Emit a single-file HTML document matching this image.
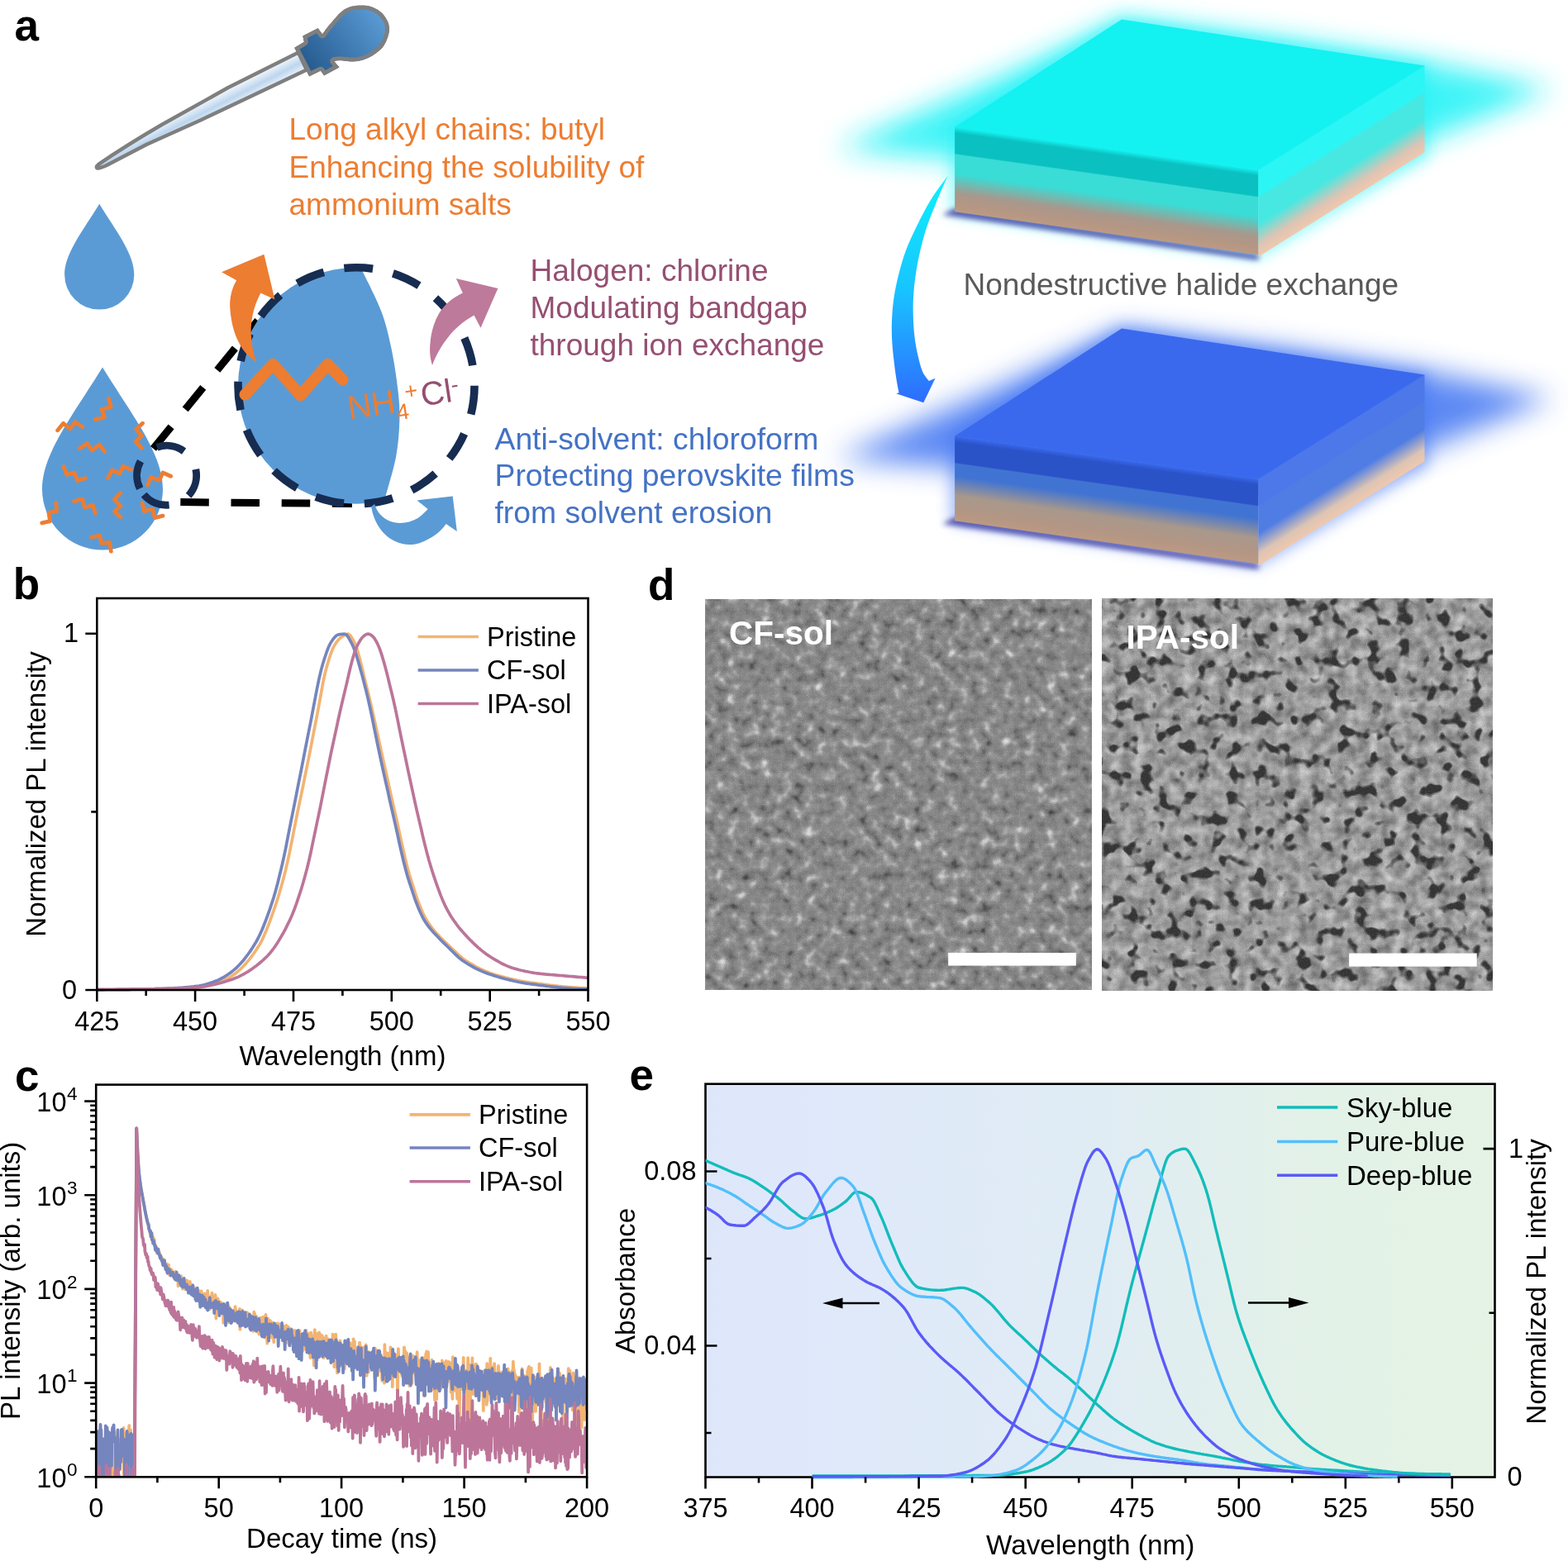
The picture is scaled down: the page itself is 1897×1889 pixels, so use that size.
<!DOCTYPE html>
<html lang="en"><head><meta charset="utf-8"><title>Figure</title>
<style>html,body{margin:0;padding:0;background:#fff}body{width:1897px;height:1889px;overflow:hidden}svg{display:block}text{font-family:"Liberation Sans",Arial,Helvetica,sans-serif}</style>
</head><body>
<svg width="1897" height="1889" viewBox="0 0 1897 1889">
<rect width="1897" height="1889" fill="#fff"/>
<g id="slabs">
<defs>
<linearGradient id="s1f" x1="0" y1="0" x2="0" y2="1">
<stop offset="0" stop-color="#14F1F1"/><stop offset="0.07" stop-color="#0BC0C0"/><stop offset="0.31" stop-color="#0BC0C0"/><stop offset="0.325" stop-color="#3ADCD6"/>
<stop offset="0.55" stop-color="#3ADCD6"/><stop offset="0.78" stop-color="#A8988C"/><stop offset="0.9" stop-color="#B49684"/><stop offset="1" stop-color="#BC9A82"/></linearGradient>
<linearGradient id="s1r" x1="0" y1="0" x2="0" y2="1">
<stop offset="0" stop-color="#2CF5F5"/><stop offset="0.30" stop-color="#2CF5F5"/><stop offset="0.32" stop-color="#48E8E2"/>
<stop offset="0.62" stop-color="#48E8E2"/><stop offset="0.86" stop-color="#DCC4B4"/><stop offset="1" stop-color="#F0C8AE"/></linearGradient>
<filter id="s1blur" x="-0.3" y="-0.6" width="1.6" height="2.2"><feGaussianBlur stdDeviation="17"/></filter>
<filter id="s1blur2" x="-0.1" y="-1" width="1.2" height="3"><feGaussianBlur stdDeviation="3"/></filter>
<filter id="s1blur3" x="-0.3" y="-0.6" width="1.6" height="2.2"><feGaussianBlur stdDeviation="9"/></filter>
</defs>
<g transform="translate(0 0)">
<path d="M1012 180L1200 98L1357 26L1560 50L1730 76L1878 108L1730 168L1530 228L1300 204Z" fill="#1CF2F6" opacity="0.85" filter="url(#s1blur)"/>
<path d="M1150 150L1357 20L1728 78L1728 190L1522 312L1150 258Z" fill="#1CF2F6" opacity="0.5" filter="url(#s1blur3)"/>
<path d="M1140 260L1522.5 315L1522.5 308L1155 252Z" fill="#4A4AA8" opacity="0.9" filter="url(#s1blur2)"/>
<g transform="translate(1155.1 153.7) skewY(8.05)"><rect width="367.4" height="102.5" fill="url(#s1f)"/></g>
<g transform="translate(1522.5 205.7) skewY(-32.15)"><rect width="201" height="105" fill="url(#s1r)"/></g>
<path d="M1357 23.6L1723.5 79.4L1522.5 205.7L1155.1 153.7Z" fill="#14F1F1"/>
</g>
<defs>
<linearGradient id="s2f" x1="0" y1="0" x2="0" y2="1">
<stop offset="0" stop-color="#3B69EE"/><stop offset="0.07" stop-color="#2A53C8"/><stop offset="0.31" stop-color="#2A53C8"/><stop offset="0.325" stop-color="#4174D2"/>
<stop offset="0.47" stop-color="#4174D2"/><stop offset="0.7" stop-color="#A8988C"/><stop offset="0.9" stop-color="#B49684"/><stop offset="1" stop-color="#BC9A82"/></linearGradient>
<linearGradient id="s2r" x1="0" y1="0" x2="0" y2="1">
<stop offset="0" stop-color="#4D78EA"/><stop offset="0.30" stop-color="#4D78EA"/><stop offset="0.32" stop-color="#4F7DE4"/>
<stop offset="0.62" stop-color="#4F7DE4"/><stop offset="0.86" stop-color="#DCC4B4"/><stop offset="1" stop-color="#F0C8AE"/></linearGradient>
<filter id="s2blur" x="-0.3" y="-0.6" width="1.6" height="2.2"><feGaussianBlur stdDeviation="17"/></filter>
<filter id="s2blur2" x="-0.1" y="-1" width="1.2" height="3"><feGaussianBlur stdDeviation="3"/></filter>
<filter id="s2blur3" x="-0.3" y="-0.6" width="1.6" height="2.2"><feGaussianBlur stdDeviation="9"/></filter>
</defs>
<g transform="translate(0 374)">
<path d="M1012 180L1200 98L1357 26L1560 50L1730 76L1878 108L1730 168L1530 228L1300 204Z" fill="#3F74F2" opacity="0.85" filter="url(#s2blur)"/>
<path d="M1150 150L1357 20L1728 78L1728 190L1522 312L1150 258Z" fill="#3F74F2" opacity="0.5" filter="url(#s2blur3)"/>
<path d="M1140 260L1522.5 315L1522.5 308L1155 252Z" fill="#4A4AA8" opacity="0.9" filter="url(#s2blur2)"/>
<g transform="translate(1155.1 153.7) skewY(8.05)"><rect width="367.4" height="102.5" fill="url(#s2f)"/></g>
<g transform="translate(1522.5 205.7) skewY(-32.15)"><rect width="201" height="105" fill="url(#s2r)"/></g>
<path d="M1357 23.6L1723.5 79.4L1522.5 205.7L1155.1 153.7Z" fill="#3B69EE"/>
</g>
</g>
<g id="panel-a" font-family='"Liberation Sans", Arial, Helvetica, sans-serif'>
<defs>
<linearGradient id="tubeg" gradientUnits="userSpaceOnUse" x1="359.5" y1="64" x2="370.9" y2="86.2"><stop offset="0" stop-color="#F4F8FC"/><stop offset="0.5" stop-color="#BDD6EE"/><stop offset="1" stop-color="#F4F8FC"/></linearGradient>
<linearGradient id="bulbg" gradientUnits="userSpaceOnUse" x1="372" y1="85" x2="462" y2="18"><stop offset="0" stop-color="#255A8E"/><stop offset="1" stop-color="#5B9BD5"/></linearGradient>
<linearGradient id="arrg" gradientUnits="userSpaceOnUse" x1="0" y1="213" x2="0" y2="488"><stop offset="0" stop-color="#0FF0FC"/><stop offset="0.5" stop-color="#18C4FF"/><stop offset="1" stop-color="#2F6BFF"/></linearGradient>
<clipPath id="bigc"><circle cx="431" cy="466.8" r="143"/></clipPath>
</defs>
<text x="17.5" y="48.8" font-size="53" text-anchor="start" fill="#000" font-weight="bold">a</text>
<path d="M120.2 246.8C141.2 280.8 162.3 307.3 162.3 332.3A42.1 42.3 0 0 1 78.1 332.3C78.1 307.3 99.2 280.8 120.2 246.8Z" fill="#5B9BD5"/>
<path d="M124 444.5C160.4 503.5 197 548.9 197 592.2A73 73.4 0 0 1 51 592.2C51 548.9 87.6 503.5 124 444.5Z" fill="#5B9BD5"/>
<path d="M115.3 507.6L126.4 504.8L123.2 495.6L134.3 492.3L131.4 482.1M69.7 520.8L76.6 512.2L84.5 519L90.8 510.7L99.6 516.6M172.5 512.2L164.8 519.6L171.6 527.3L164.2 534.3L171.2 542.1M96.5 542.4L105.5 536.5L111.3 544.8L120.3 538L126.4 546.3M77.1 564.6L80.8 574.4L90 572L93.7 581.7L103.3 578.6M130.6 578.6L135.6 568.8L144.5 573.1L149.1 564.2L158.3 568.3M178.6 586.7L182.7 577.5L192.8 581.2L197 572L206.6 576.2M145.8 596.5L138.4 604.4L145.8 612.2L138.4 619L145.8 626M89.5 606.6L99.6 603.9L102.4 614L112.5 611.3L115.3 621M67.9 608.5L68.6 618.6L59 620.5L60.5 630.6L50.7 632.8M172 608.5L174.4 618.6L184.5 616.2L187.3 626.6L197 624.2M110.7 650L120.8 648.2L122.7 657.4L132.5 656.5L134.3 667.2" fill="none" stroke="#ED7D31" stroke-width="4.8" stroke-linecap="round" stroke-linejoin="round"/>
<path d="M185.5 542.8L311.8 387.8" stroke="#000" stroke-width="9" stroke-dasharray="34.2 27" fill="none"/>
<path d="M218.3 607.6L426 609.5" stroke="#000" stroke-width="9" stroke-dasharray="34.5 26.7" fill="none"/>
<circle cx="201.6" cy="575.3" r="36" fill="none" stroke="#172C51" stroke-width="8.9" stroke-dasharray="34.2 26.7" transform="rotate(154 201.6 575.3)"/>
<path clip-path="url(#bigc)" d="M270 300H432.1L432.1 314.2C433.1 316.4 433.2 316.9 438.1 327.3C443 337.7 455.4 361 461.2 376.6C467.1 392.2 469.9 405.1 473.3 420.8C476.6 436.6 479.7 456.7 481.3 471.1C483 485.5 483.7 493.9 483.4 507.3C483 520.7 482.2 535.8 479.3 551.6C476.5 567.3 469.1 590.8 466.3 601.9C463.4 612.9 462.9 615.3 462.2 618H270Z" fill="#5B9BD5"/>
<circle cx="431" cy="466.8" r="143" fill="none" stroke="#172C51" stroke-width="9.6" stroke-dasharray="34.9 25"/>
<path d="M319.4 307.8L332.5 362.5L315.4 354.4C306 372 302 392 304.3 410.8C305 420 307 429 310.4 437.9C300 432 294 424 290.2 416.8C283 404 279 388 278.2 370.5C278 358 281 348 286.2 339.3L268.1 329.3Z" fill="#ED7D31"/>
<path d="M602.4 349L581.5 396.7L573.5 381.6C560 389 549 399 541.7 408.7C534 418 527 431 523 441.9C520 432 519.5 424 520.6 414C522 400 526 388 531.6 378.6C538 368 548 360 559.8 354.4L551.8 336.9Z" fill="#BD7A9B"/>
<path d="M547.7 600.5L552.8 643.1L539.7 634C533 644 522 652 507.5 657.2C498 660 488 660 478 655C463 648 452 632 449.2 613L453.2 610C456 620 463 627 471.3 630.5C482 635 495 633 505.5 627C510 624 514 620 517.6 616L504.5 605.5Z" fill="#5B9BD5"/>
<path d="M296.5 477.5L330.3 440.8L363.5 478.3L396.6 440.8L414.5 459.5" fill="none" stroke="#ED7D31" stroke-width="14" stroke-linecap="round" stroke-linejoin="round"/>
<g transform="translate(422.8 507.6) rotate(-8.5)"><text x="0" y="0" font-size="40" fill="#ED7D31">NH<tspan font-size="27" dy="9.5">4</tspan><tspan font-size="27" dy="-23.5" dx="-2">+</tspan></text></g>
<g transform="translate(511 491.5) rotate(-8.5)"><text x="0" y="0" font-size="40" fill="#954F72">Cl<tspan font-size="27" dy="-11">-</tspan></text></g>
<clipPath id="tubec"><path d="M362 60.5L274 104.6L194.9 148.8Q150 175 118 197Q112 202 116.5 205.5Q121 206.5 131 201.5L179 176.5L242.3 148L305.6 118L374 85.5Z"/></clipPath><clipPath id="bulbc"><path d="M356.1 57.7L367.8 50.8L366.2 43.4L384.7 33.9L390 41.3C390.9 40.1 393.3 36.4 395.3 33.9C397.2 31.4 399.4 29 401.6 26.5C403.8 23.9 406.1 21 408.5 18.5C411 16.1 413.6 13.5 416.5 11.6C419.4 9.8 422.6 8.5 426 7.6C429.3 6.7 433.1 6.4 436.6 6.4C440.1 6.3 443.8 6.5 447.2 7.4C450.5 8.3 453.9 9.9 456.7 11.6C459.5 13.4 462 15.5 464.1 18C466.2 20.5 468.3 23.8 469.4 26.5C470.5 29.1 470.8 31.6 471 33.9C471.2 36.2 471 37.8 470.5 40.2C469.9 42.7 469 45.9 467.8 48.7C466.6 51.5 465 54.7 463 57.2C461.1 59.6 458.6 61.6 456.2 63.5C453.7 65.5 450.8 67.4 448.2 68.8C445.7 70.2 443.5 71.1 440.8 72C438.2 72.9 435 73.7 432.3 74.1C429.7 74.6 427.2 74.6 424.9 74.6C422.6 74.6 420.9 74.3 418.6 74.1C416.3 73.9 413.6 73.3 411.2 73.3C408.8 73.3 405.4 74 404.3 74.1L410.6 81.5L392.1 91.6L387.9 85.8L374.1 92.6Z"/></clipPath>
<path d="M362 60.5L274 104.6L194.9 148.8Q150 175 118 197Q112 202 116.5 205.5Q121 206.5 131 201.5L179 176.5L242.3 148L305.6 118L374 85.5Z" fill="url(#tubeg)" stroke="#7F7F7F" stroke-width="9" stroke-linejoin="round" clip-path="url(#tubec)"/>
<path d="M356.1 57.7L367.8 50.8L366.2 43.4L384.7 33.9L390 41.3C390.9 40.1 393.3 36.4 395.3 33.9C397.2 31.4 399.4 29 401.6 26.5C403.8 23.9 406.1 21 408.5 18.5C411 16.1 413.6 13.5 416.5 11.6C419.4 9.8 422.6 8.5 426 7.6C429.3 6.7 433.1 6.4 436.6 6.4C440.1 6.3 443.8 6.5 447.2 7.4C450.5 8.3 453.9 9.9 456.7 11.6C459.5 13.4 462 15.5 464.1 18C466.2 20.5 468.3 23.8 469.4 26.5C470.5 29.1 470.8 31.6 471 33.9C471.2 36.2 471 37.8 470.5 40.2C469.9 42.7 469 45.9 467.8 48.7C466.6 51.5 465 54.7 463 57.2C461.1 59.6 458.6 61.6 456.2 63.5C453.7 65.5 450.8 67.4 448.2 68.8C445.7 70.2 443.5 71.1 440.8 72C438.2 72.9 435 73.7 432.3 74.1C429.7 74.6 427.2 74.6 424.9 74.6C422.6 74.6 420.9 74.3 418.6 74.1C416.3 73.9 413.6 73.3 411.2 73.3C408.8 73.3 405.4 74 404.3 74.1L410.6 81.5L392.1 91.6L387.9 85.8L374.1 92.6Z" fill="url(#bulbg)" stroke="#7F7F7F" stroke-width="10" stroke-linejoin="round" clip-path="url(#bulbc)"/>
<text x="349.5" y="169.1" font-size="37" text-anchor="start" fill="#ED7D31">Long alkyl chains: butyl</text>
<text x="349.5" y="214.6" font-size="37" text-anchor="start" fill="#ED7D31">Enhancing the solubility of</text>
<text x="349.5" y="260.1" font-size="37" text-anchor="start" fill="#ED7D31">ammonium salts</text>
<text x="641.5" y="339.6" font-size="37" text-anchor="start" fill="#954F72">Halogen: chlorine</text>
<text x="641.5" y="384.7" font-size="37" text-anchor="start" fill="#954F72">Modulating bandgap</text>
<text x="641.5" y="429.8" font-size="37" text-anchor="start" fill="#954F72">through ion exchange</text>
<text x="598.5" y="543.7" font-size="37.3" text-anchor="start" fill="#4472C4">Anti-solvent: chloroform</text>
<text x="598.5" y="588.4" font-size="37.3" text-anchor="start" fill="#4472C4">Protecting perovskite films</text>
<text x="598.5" y="633" font-size="37.3" text-anchor="start" fill="#4472C4">from solvent erosion</text>
<text x="1165.5" y="357" font-size="37" text-anchor="start" fill="#595959">Nondestructive halide exchange</text>
<path d="M1146.6 212.8C1143.2 217.7 1132.3 231.8 1126 242C1119.7 252.2 1113.8 264.1 1108.8 274.3C1103.8 284.5 1099.5 293.6 1096 303C1092.5 312.4 1089.9 321.5 1087.5 331C1085.1 340.5 1082.9 350.6 1081.5 360C1080.1 369.4 1079.4 379 1079 387.7C1078.6 396.4 1078.8 404.1 1079.2 412C1079.6 419.9 1080.5 427.7 1081.3 435C1082.1 442.3 1083 449.3 1084 456C1085 462.7 1086.9 472 1087.5 475.2L1084.2 476.2L1117.3 487.2L1131.5 457.7L1123.9 461C1122.6 459 1118.2 454.7 1115.9 449.2C1113.6 443.7 1111.6 435.1 1110 428C1108.4 420.9 1107.3 414.2 1106.4 406.7C1105.5 399.2 1105 390.9 1104.8 383C1104.6 375.1 1104.5 368.1 1105 359.4C1105.5 350.7 1106.6 340.5 1108 331C1109.4 321.5 1111.2 312.1 1113.5 302.6C1115.8 293.1 1118.3 283.4 1121.5 274C1124.7 264.6 1128.2 256.1 1132.4 245.9C1136.6 235.7 1144.2 218.3 1146.6 212.8Z" fill="url(#arrg)"/>
</g>
<g id="panel-b" font-family='"Liberation Sans", Arial, Helvetica, sans-serif'>
<text x="15.8" y="724.9" font-size="53" text-anchor="start" fill="#000" font-weight="bold">b</text>
<clipPath id="clipb"><rect x="117.3" y="724.0" width="594.2" height="476.0"/></clipPath>
<g clip-path="url(#clipb)" fill="none" stroke-width="3.7" stroke-linejoin="round">
<path d="M117.3 1197.6L119.7 1197.6L122.1 1197.6L124.4 1197.6L126.8 1197.5L129.2 1197.5L131.6 1197.5L133.9 1197.5L136.3 1197.5L138.7 1197.5L141.1 1197.4L143.4 1197.4L145.8 1197.4L148.2 1197.4L150.6 1197.3L153 1197.3L155.3 1197.3L157.7 1197.2L160.1 1197.2L162.5 1197.2L164.8 1197.1L167.2 1197.1L169.6 1197L172 1197L174.3 1197L176.7 1196.9L179.1 1196.9L181.5 1196.8L183.9 1196.8L186.2 1196.8L188.6 1196.7L191 1196.7L193.4 1196.6L195.7 1196.6L198.1 1196.5L200.5 1196.5L202.9 1196.4L205.2 1196.3L207.6 1196.3L210 1196.2L212.4 1196.1L214.7 1196.1L217.1 1196L219.5 1195.9L221.9 1195.8L224.3 1195.7L226.6 1195.6L229 1195.4L231.4 1195.3L233.8 1195.2L236.1 1195L238.5 1194.8L240.9 1194.6L243.3 1194.3L245.6 1193.9L248 1193.5L250.4 1193L252.8 1192.5L255.2 1191.9L257.5 1191.3L259.9 1190.7L262.3 1190L264.7 1189.1L267 1188.2L269.4 1187.1L271.8 1186L274.2 1184.7L276.5 1183.4L278.9 1182L281.3 1180.4L283.7 1178.8L286.1 1177L288.4 1175L290.8 1172.8L293.2 1170.5L295.6 1168L297.9 1165.4L300.3 1162.6L302.7 1159.6L305.1 1156.5L307.4 1153.2L309.8 1149.7L312.2 1146.1L314.6 1142.2L317 1137.7L319.3 1132.6L321.7 1127.1L324.1 1121.1L326.5 1114.9L328.8 1108.3L331.2 1101.6L333.6 1094.7L336 1087.4L338.3 1079.6L340.7 1071.2L343.1 1062.4L345.5 1053.1L347.8 1043.1L350.2 1032.1L352.6 1020.2L355 1008L357.4 995.9L359.7 984.2L362.1 972.7L364.5 961.3L366.9 949.8L369.2 938.2L371.6 926.5L374 914.6L376.4 902.5L378.7 890.3L381.1 878.2L383.5 866L385.9 853.2L388.3 839.9L390.6 827.2L393 815.7L395.4 806.4L397.8 798.4L400.1 791.2L402.5 785.2L404.9 780.5L407.3 776.9L409.6 774L412 771.7L414.4 770L416.8 768.5L419.2 767.4L421.5 767.2L423.9 769.1L426.3 772.8L428.7 777.1L431 782.8L433.4 790.4L435.8 799.3L438.2 808.9L440.5 818.8L442.9 828.4L445.3 837.9L447.7 847.9L450.1 858.2L452.4 868.8L454.8 879.6L457.2 890.5L459.6 901.3L461.9 912.1L464.3 922.8L466.7 933.4L469.1 944.2L471.4 954.9L473.8 965.6L476.2 976.3L478.6 986.7L481 997.2L483.3 1008L485.7 1018.9L488.1 1029.5L490.5 1039.8L492.8 1049.4L495.2 1058.1L497.6 1065.9L500 1073.4L502.3 1080.6L504.7 1087.5L507.1 1094L509.5 1099.9L511.8 1105.4L514.2 1110.1L516.6 1114.2L519 1117.9L521.4 1121.2L523.7 1124.3L526.1 1127.2L528.5 1129.9L530.9 1132.4L533.2 1134.9L535.6 1137.2L538 1139.5L540.4 1141.7L542.7 1144L545.1 1146.3L547.5 1148.6L549.9 1150.9L552.3 1153.2L554.6 1155.3L557 1157.4L559.4 1159.4L561.8 1161.2L564.1 1162.9L566.5 1164.4L568.9 1165.8L571.3 1167.2L573.6 1168.6L576 1169.9L578.4 1171.1L580.8 1172.3L583.2 1173.5L585.5 1174.5L587.9 1175.6L590.3 1176.5L592.7 1177.4L595 1178.2L597.4 1179L599.8 1179.8L602.2 1180.5L604.5 1181.1L606.9 1181.8L609.3 1182.4L611.7 1183.1L614.1 1183.6L616.4 1184.2L618.8 1184.8L621.2 1185.3L623.6 1185.8L625.9 1186.3L628.3 1186.7L630.7 1187.2L633.1 1187.6L635.4 1188L637.8 1188.4L640.2 1188.7L642.6 1189.1L644.9 1189.4L647.3 1189.7L649.7 1190.1L652.1 1190.4L654.5 1190.7L656.8 1191L659.2 1191.4L661.6 1191.7L664 1192L666.3 1192.3L668.7 1192.5L671.1 1192.8L673.5 1193.1L675.8 1193.4L678.2 1193.6L680.6 1193.9L683 1194.1L685.4 1194.3L687.7 1194.5L690.1 1194.7L692.5 1194.9L694.9 1195.1L697.2 1195.2L699.6 1195.4L702 1195.5L704.4 1195.6L706.7 1195.7L709.1 1195.8L711.5 1195.8" stroke="#F2B473"/>
<path d="M117.3 1197.6L119.7 1197.6L122.1 1197.6L124.4 1197.6L126.8 1197.6L129.2 1197.5L131.6 1197.5L133.9 1197.5L136.3 1197.5L138.7 1197.5L141.1 1197.5L143.4 1197.4L145.8 1197.4L148.2 1197.4L150.6 1197.4L153 1197.3L155.3 1197.3L157.7 1197.3L160.1 1197.2L162.5 1197.2L164.8 1197.2L167.2 1197.1L169.6 1197.1L172 1197L174.3 1197L176.7 1196.9L179.1 1196.9L181.5 1196.9L183.9 1196.8L186.2 1196.8L188.6 1196.7L191 1196.7L193.4 1196.6L195.7 1196.5L198.1 1196.4L200.5 1196.3L202.9 1196.2L205.2 1196.1L207.6 1196L210 1195.9L212.4 1195.7L214.7 1195.6L217.1 1195.4L219.5 1195.3L221.9 1195.1L224.3 1194.9L226.6 1194.7L229 1194.5L231.4 1194.2L233.8 1194L236.1 1193.7L238.5 1193.4L240.9 1193.1L243.3 1192.6L245.6 1192.1L248 1191.5L250.4 1190.8L252.8 1190.1L255.2 1189.3L257.5 1188.5L259.9 1187.6L262.3 1186.7L264.7 1185.7L267 1184.5L269.4 1183.2L271.8 1181.8L274.2 1180.3L276.5 1178.7L278.9 1177L281.3 1175.2L283.7 1173.2L286.1 1171.1L288.4 1168.8L290.8 1166.3L293.2 1163.6L295.6 1160.7L297.9 1157.7L300.3 1154.5L302.7 1151.1L305.1 1147.5L307.4 1143.8L309.8 1139.9L312.2 1135.5L314.6 1130.6L317 1125.2L319.3 1119.5L321.7 1113.4L324.1 1106.9L326.5 1100.2L328.8 1093.2L331.2 1085.7L333.6 1077.4L336 1068.5L338.3 1059L340.7 1049.2L343.1 1038.7L345.5 1027.3L347.8 1015.4L350.2 1003.2L352.6 991.2L355 979.3L357.4 967.4L359.7 955.4L362.1 943.3L364.5 931.3L366.9 919.2L369.2 907.1L371.6 894.9L374 882.8L376.4 870.9L378.7 858.7L381.1 846L383.5 833.5L385.9 821.8L388.3 811.6L390.6 803.2L393 795.5L395.4 788.5L397.8 782.4L400.1 777.7L402.5 774.2L404.9 771.1L407.3 768.9L409.6 767.9L412 767.5L414.4 767.3L416.8 767.1L419.2 768.1L421.5 771.3L423.9 775.6L426.3 780.2L428.7 785.9L431 792.7L433.4 800.5L435.8 808.9L438.2 817.6L440.5 826.6L442.9 835.8L445.3 845.9L447.7 856.7L450.1 867.9L452.4 879.5L454.8 891.2L457.2 902.8L459.6 914.1L461.9 925L464.3 935.8L466.7 946.5L469.1 957.2L471.4 967.9L473.8 978.4L476.2 988.8L478.6 999.4L481 1010.2L483.3 1021L485.7 1031.6L488.1 1041.7L490.5 1051.2L492.8 1059.7L495.2 1067.4L497.6 1074.8L500 1082L502.3 1088.8L504.7 1095.1L507.1 1101L509.5 1106.3L511.8 1111L514.2 1115L516.6 1118.6L519 1121.8L521.4 1124.7L523.7 1127.4L526.1 1130L528.5 1132.5L530.9 1135L533.2 1137.5L535.6 1139.9L538 1142.2L540.4 1144.5L542.7 1146.8L545.1 1149.1L547.5 1151.5L549.9 1153.8L552.3 1156.1L554.6 1158.3L557 1160.3L559.4 1162.2L561.8 1163.8L564.1 1165.3L566.5 1166.8L568.9 1168.2L571.3 1169.5L573.6 1170.8L576 1172.1L578.4 1173.2L580.8 1174.3L583.2 1175.4L585.5 1176.4L587.9 1177.3L590.3 1178.2L592.7 1179L595 1179.8L597.4 1180.6L599.8 1181.3L602.2 1182L604.5 1182.7L606.9 1183.4L609.3 1184L611.7 1184.7L614.1 1185.3L616.4 1185.9L618.8 1186.4L621.2 1187L623.6 1187.5L625.9 1188L628.3 1188.5L630.7 1188.9L633.1 1189.4L635.4 1189.8L637.8 1190.1L640.2 1190.5L642.6 1190.8L644.9 1191.1L647.3 1191.4L649.7 1191.7L652.1 1192.1L654.5 1192.4L656.8 1192.7L659.2 1193L661.6 1193.3L664 1193.5L666.3 1193.8L668.7 1194.1L671.1 1194.4L673.5 1194.6L675.8 1194.9L678.2 1195.1L680.6 1195.3L683 1195.5L685.4 1195.7L687.7 1195.9L690.1 1196.1L692.5 1196.3L694.9 1196.4L697.2 1196.5L699.6 1196.6L702 1196.7L704.4 1196.8L706.7 1196.9L709.1 1196.9L711.5 1196.9" stroke="#7585BD"/>
<path d="M117.3 1197.6L119.7 1197.6L122.1 1197.6L124.4 1197.6L126.8 1197.5L129.2 1197.5L131.6 1197.5L133.9 1197.5L136.3 1197.5L138.7 1197.5L141.1 1197.4L143.4 1197.4L145.8 1197.4L148.2 1197.4L150.6 1197.3L153 1197.3L155.3 1197.3L157.7 1197.2L160.1 1197.2L162.5 1197.2L164.8 1197.1L167.2 1197.1L169.6 1197L172 1197L174.3 1197L176.7 1196.9L179.1 1196.9L181.5 1196.8L183.9 1196.8L186.2 1196.8L188.6 1196.7L191 1196.7L193.4 1196.6L195.7 1196.6L198.1 1196.5L200.5 1196.5L202.9 1196.4L205.2 1196.3L207.6 1196.3L210 1196.2L212.4 1196.1L214.7 1196L217.1 1195.9L219.5 1195.9L221.9 1195.8L224.3 1195.6L226.6 1195.5L229 1195.4L231.4 1195.3L233.8 1195.2L236.1 1195L238.5 1194.8L240.9 1194.6L243.3 1194.4L245.6 1194L248 1193.7L250.4 1193.3L252.8 1192.8L255.2 1192.3L257.5 1191.8L259.9 1191.2L262.3 1190.6L264.7 1190L267 1189.4L269.4 1188.7L271.8 1188L274.2 1187.2L276.5 1186.5L278.9 1185.7L281.3 1184.9L283.7 1184L286.1 1183.1L288.4 1182.1L290.8 1180.9L293.2 1179.7L295.6 1178.4L297.9 1177L300.3 1175.6L302.7 1174L305.1 1172.4L307.4 1170.6L309.8 1168.9L312.2 1167L314.6 1165L317 1163L319.3 1160.9L321.7 1158.7L324.1 1156.3L326.5 1153.6L328.8 1150.7L331.2 1147.5L333.6 1144.1L336 1140.4L338.3 1136.6L340.7 1132.5L343.1 1128.3L345.5 1123.8L347.8 1119.2L350.2 1114.4L352.6 1109.1L355 1103.3L357.4 1097L359.7 1090.3L362.1 1083.2L364.5 1075.7L366.9 1067.8L369.2 1059.6L371.6 1050.5L374 1040.5L376.4 1029.7L378.7 1018.5L381.1 1007.1L383.5 995.6L385.9 984.3L388.3 972.7L390.6 960.8L393 948.7L395.4 936.6L397.8 924.7L400.1 913.1L402.5 901.9L404.9 890.8L407.3 879.8L409.6 869L412 858.4L414.4 848.1L416.8 838.1L419.2 828.1L421.5 817.9L423.9 807.7L426.3 798.4L428.7 790.3L431 784L433.4 779L435.8 774.8L438.2 771.5L440.5 769.4L442.9 767.8L445.3 767.1L447.7 767.8L450.1 769.4L452.4 771.6L454.8 775.4L457.2 780.1L459.6 785.8L461.9 792.7L464.3 800.8L466.7 809.6L469.1 818.9L471.4 828.5L473.8 838.1L476.2 848.2L478.6 859.2L481 870.7L483.3 882.4L485.7 894.2L488.1 905.7L490.5 916.9L492.8 928.1L495.2 939.3L497.6 950.4L500 961.4L502.3 972.2L504.7 982.7L507.1 992.9L509.5 1003L511.8 1013.1L514.2 1023L516.6 1032.4L519 1041.2L521.4 1049.2L523.7 1056.7L526.1 1063.9L528.5 1070.8L530.9 1077.4L533.2 1083.6L535.6 1089.4L538 1094.8L540.4 1099.6L542.7 1103.9L545.1 1108L547.5 1111.7L549.9 1115.2L552.3 1118.5L554.6 1121.6L557 1124.5L559.4 1127.3L561.8 1129.9L564.1 1132.5L566.5 1135.1L568.9 1137.5L571.3 1139.9L573.6 1142.2L576 1144.4L578.4 1146.6L580.8 1148.6L583.2 1150.6L585.5 1152.4L587.9 1154.2L590.3 1155.9L592.7 1157.5L595 1159L597.4 1160.4L599.8 1161.8L602.2 1163.2L604.5 1164.5L606.9 1165.8L609.3 1167L611.7 1168.1L614.1 1169.1L616.4 1170.1L618.8 1170.9L621.2 1171.7L623.6 1172.4L625.9 1173L628.3 1173.7L630.7 1174.3L633.1 1174.8L635.4 1175.4L637.8 1175.8L640.2 1176.3L642.6 1176.7L644.9 1177.1L647.3 1177.5L649.7 1177.8L652.1 1178.1L654.5 1178.4L656.8 1178.6L659.2 1178.9L661.6 1179.1L664 1179.3L666.3 1179.5L668.7 1179.7L671.1 1179.9L673.5 1180.1L675.8 1180.3L678.2 1180.5L680.6 1180.7L683 1180.9L685.4 1181.1L687.7 1181.3L690.1 1181.5L692.5 1181.7L694.9 1181.9L697.2 1182.1L699.6 1182.3L702 1182.5L704.4 1182.7L706.7 1182.9L709.1 1183.1L711.5 1183.3" stroke="#BC7599"/>
</g>
<rect x="117.3" y="724.0" width="594.2" height="474" fill="none" stroke="#000" stroke-width="2.6"/>
<path d="M117.3 1198v14M176.7 1198v7M236.1 1198v14M295.6 1198v7M355 1198v14M414.4 1198v7M473.8 1198v14M533.2 1198v7M592.7 1198v14M652.1 1198v7M711.5 1198v14M117.3 1198h-14M117.3 982.4h-7M117.3 766.7h-14" stroke="#000" stroke-width="2.6" fill="none"/>
<text x="117.3" y="1247.4" font-size="32.5" text-anchor="middle" fill="#000">425</text>
<text x="236.1" y="1247.4" font-size="32.5" text-anchor="middle" fill="#000">450</text>
<text x="355" y="1247.4" font-size="32.5" text-anchor="middle" fill="#000">475</text>
<text x="473.8" y="1247.4" font-size="32.5" text-anchor="middle" fill="#000">500</text>
<text x="592.7" y="1247.4" font-size="32.5" text-anchor="middle" fill="#000">525</text>
<text x="711.5" y="1247.4" font-size="32.5" text-anchor="middle" fill="#000">550</text>
<text x="95" y="777.2" font-size="32.5" text-anchor="end" fill="#000">1</text>
<text x="93" y="1208.5" font-size="32.5" text-anchor="end" fill="#000">0</text>
<text x="414.4" y="1289" font-size="33" text-anchor="middle" fill="#000">Wavelength (nm)</text>
<text transform="translate(54.5 961) rotate(-90)" font-size="33" text-anchor="middle">Normalized PL intensity</text>
<path d="M505.6 770.5H578.9" stroke="#F2B473" stroke-width="3.6" fill="none"/>
<text x="589" y="782.2" font-size="32.5" text-anchor="start" fill="#000">Pristine</text>
<path d="M505.6 811H578.9" stroke="#7585BD" stroke-width="3.6" fill="none"/>
<text x="589" y="822.2" font-size="32.5" text-anchor="start" fill="#000">CF-sol</text>
<path d="M505.6 851.5H578.9" stroke="#BC7599" stroke-width="3.6" fill="none"/>
<text x="589" y="863.1" font-size="32.5" text-anchor="start" fill="#000">IPA-sol</text>
</g>
<g id="panel-c" font-family='"Liberation Sans", Arial, Helvetica, sans-serif'>
<text x="18.1" y="1319.6" font-size="53" text-anchor="start" fill="#000" font-weight="bold">c</text>
<clipPath id="clipc"><rect x="116.2" y="1312.6" width="593.9" height="474.70000000000005"/></clipPath>
<g clip-path="url(#clipc)" fill="none" stroke-width="3.8" stroke-linejoin="round">
<path d="M116.2 1754.9L116.6 1733.3L117.1 1735.1L117.5 1767.5L118 1762.2L118.4 1768L118.9 1745L119.3 1756.8L119.8 1742.1L120.2 1815.1L120.7 1730.7L121.1 1757.7L121.5 1743.2L122 1758.5L122.4 1764.2L122.9 1746.8L123.3 1740.9L123.8 1760L124.2 1758.9L124.7 1743.1L125.1 1778.1L125.6 1805.5L126 1748L126.4 1771.9L126.9 1815.1L127.3 1776.3L127.8 1766.4L128.2 1789.9L128.7 1804.3L129.1 1754.9L129.6 1739.8L130 1760.7L130.5 1774.1L130.9 1748.2L131.3 1742.6L131.8 1762.3L132.2 1745.4L132.7 1737.7L133.1 1760.1L133.6 1776.3L134 1748.9L134.5 1750.7L134.9 1736.9L135.4 1793.9L135.8 1771.7L136.2 1777L136.7 1815.1L137.1 1753.1L137.6 1745.7L138 1774L138.5 1733L138.9 1741L139.4 1744.1L139.8 1747.9L140.3 1739L140.7 1796.1L141.1 1744.3L141.6 1744.5L142 1815.1L142.5 1748.9L142.9 1761.1L143.4 1741.6L143.8 1765.7L144.3 1756L144.7 1749L145.2 1778.3L145.6 1744.5L146 1757.8L146.5 1746.3L146.9 1767.8L147.4 1737.1L147.8 1744.4L148.3 1759.4L148.7 1744L149.2 1734.6L149.6 1727.9L150.1 1809L150.5 1740L150.9 1746.8L151.4 1757.6L151.8 1782.7L152.3 1734.7L152.7 1792.9L153.2 1745.1L153.6 1734.1L154.1 1810.6L154.5 1762.3L155 1795L155.4 1750.8L155.8 1731.3L156.3 1725.2L156.7 1815.1L157.2 1769.3L157.6 1742.8L158.1 1730.5L158.5 1747.6L159 1774.2L159.4 1749.8L159.9 1756L160.3 1760L160.7 1773.8L161.2 1748.2L161.6 1749.6L162.1 1757.6L162.5 1760.4L163 1769.5L163.4 1663.9L163.9 1578.7L164.3 1512.2L164.8 1438.5L165.2 1365.3L165.6 1375.4L166.1 1385.1L166.5 1394.2L167 1402.5L167.4 1409.9L167.9 1416L168.3 1420.8L168.8 1424.9L169.2 1428.5L169.7 1431.8L170.1 1434.7L170.5 1437.4L171 1440L171.4 1442.4L171.9 1444.8L172.3 1447.3L172.8 1449.8L173.2 1452.4L173.7 1454.9L174.1 1457.4L174.6 1459.8L175 1462.2L175.4 1464.5L175.9 1466.8L176.3 1469L176.8 1471.2L177.2 1473.3L177.7 1475.3L178.1 1477.2L178.6 1479.1L179 1482.3L179.5 1483.6L179.9 1486.7L180.3 1487.2L180.8 1487.9L181.2 1488.8L181.7 1491.6L182.1 1496.6L182.6 1493.9L183 1494.7L183.5 1494.1L183.9 1496.5L184.4 1500.5L184.8 1501.9L185.2 1496.9L185.7 1500.7L186.1 1499.4L186.6 1499.8L187 1507.7L187.5 1505.8L187.9 1506.6L188.4 1507.3L188.8 1508.4L189.2 1510.1L189.7 1511.1L190.1 1516.6L190.6 1513.8L191 1516.3L191.5 1514.8L191.9 1517.3L192.4 1515.2L192.8 1515.5L193.3 1517.7L193.7 1518.5L194.1 1519.9L194.6 1522.3L195 1522.3L195.5 1524.1L195.9 1522.3L196.4 1524.2L196.8 1523.3L197.3 1529.9L197.7 1524L198.2 1529.8L198.6 1530.5L199 1529.6L199.5 1531.5L199.9 1529.6L200.4 1533.1L200.8 1535.5L201.3 1535.4L201.7 1529.3L202.2 1533.8L202.6 1538.5L203.1 1535.1L203.5 1541.1L203.9 1530.6L204.4 1542.1L204.8 1535.7L205.3 1535.9L205.7 1543.3L206.2 1537.6L206.6 1535.8L207.1 1538L207.5 1539.1L208 1537.2L208.4 1540.2L208.8 1540L209.3 1542L209.7 1539.8L210.2 1545.8L210.6 1540L211.1 1545L211.5 1547.6L212 1542.6L212.4 1538.6L212.9 1541.4L213.3 1547L213.7 1543L214.2 1547.6L214.6 1546.8L215.1 1546.4L215.5 1556.4L216 1546.8L216.4 1551.8L216.9 1550.9L217.3 1554.4L217.8 1555L218.2 1553L218.6 1546.7L219.1 1544.1L219.5 1550.5L220 1546.8L220.4 1552.2L220.9 1559.5L221.3 1551.3L221.8 1550.6L222.2 1554.3L222.7 1551.8L223.1 1551.1L223.5 1557.2L224 1560.3L224.4 1555.3L224.9 1555.6L225.3 1556.6L225.8 1551.7L226.2 1549.4L226.7 1557.9L227.1 1553.8L227.6 1553.3L228 1554.5L228.4 1553.6L228.9 1559.7L229.3 1555.4L229.8 1551L230.2 1555.9L230.7 1562.2L231.1 1557.4L231.6 1555.2L232 1559.1L232.5 1563.4L232.9 1555.2L233.3 1567.3L233.8 1559.9L234.2 1562.4L234.7 1568.2L235.1 1558.1L235.6 1561.9L236 1569.1L236.5 1561.5L236.9 1566.3L237.4 1573.9L237.8 1568.2L238.2 1564.2L238.7 1562.9L239.1 1565.3L239.6 1566.1L240 1564.5L240.5 1567.8L240.9 1562.1L241.4 1566.8L241.8 1566.5L242.3 1565.7L242.7 1573.4L243.1 1572L243.6 1562.4L244 1567.7L244.5 1570.8L244.9 1568.2L245.4 1572.4L245.8 1569.1L246.3 1573.8L246.7 1569.6L247.2 1579.2L247.6 1565.5L248 1574.2L248.5 1580.1L248.9 1573.3L249.4 1574.3L249.8 1572.1L250.3 1578.9L250.7 1571.4L251.2 1562L251.6 1580.4L252.1 1572.5L252.5 1575.9L252.9 1573.7L253.4 1584.6L253.8 1581.1L254.3 1573.2L254.7 1575.8L255.2 1568.4L255.6 1579.7L256.1 1575.5L256.5 1564.7L257 1580.8L257.4 1581.8L257.8 1577.5L258.3 1577.8L258.7 1573.7L259.2 1577.4L259.6 1582.3L260.1 1577.5L260.5 1566.9L261 1572.9L261.4 1595.4L261.9 1580.2L262.3 1584.4L262.7 1576.8L263.2 1581.1L263.6 1571.3L264.1 1576L264.5 1576.5L265 1580.1L265.4 1581.5L265.9 1579.8L266.3 1575.4L266.8 1579.3L267.2 1584.1L267.6 1576.1L268.1 1581.7L268.5 1583.3L269 1587.5L269.4 1586.4L269.9 1587L270.3 1600.8L270.8 1578.8L271.2 1581.2L271.7 1585.5L272.1 1579.2L272.5 1582.5L273 1583L273.4 1600.9L273.9 1586.7L274.3 1582.8L274.8 1577.7L275.2 1576.9L275.7 1579L276.1 1593.3L276.6 1600.5L277 1583.8L277.4 1586.9L277.9 1582.2L278.3 1588.1L278.8 1586.4L279.2 1597L279.7 1585.6L280.1 1590.8L280.6 1586.5L281 1586.1L281.5 1589.5L281.9 1587.3L282.3 1589.3L282.8 1585.3L283.2 1586.8L283.7 1593L284.1 1593.4L284.6 1581.1L285 1591L285.5 1585.2L285.9 1588.6L286.4 1594.3L286.8 1595.6L287.2 1590.6L287.7 1590.1L288.1 1588.3L288.6 1599.9L289 1595.7L289.5 1592.8L289.9 1583.9L290.4 1608.8L290.8 1590.3L291.3 1596.3L291.7 1590.8L292.1 1596.4L292.6 1591.5L293 1585.3L293.5 1591.9L293.9 1591.7L294.4 1592.2L294.8 1599.2L295.3 1591.6L295.7 1596.2L296.2 1600.2L296.6 1595.5L297 1596.9L297.5 1591.3L297.9 1596.1L298.4 1599.4L298.8 1588.1L299.3 1590.8L299.7 1589.4L300.2 1593.2L300.6 1597.6L301.1 1599.8L301.5 1599.1L301.9 1592L302.4 1597L302.8 1608L303.3 1598.3L303.7 1607.9L304.2 1597.4L304.6 1606.7L305.1 1607.3L305.5 1598.2L306 1599.6L306.4 1611L306.8 1595L307.3 1587.7L307.7 1610.1L308.2 1589.7L308.6 1604.7L309.1 1603.6L309.5 1601.6L310 1610.8L310.4 1593.2L310.9 1598L311.3 1606.2L311.7 1603.1L312.2 1612.3L312.6 1603.9L313.1 1596.2L313.5 1614.5L314 1605L314.4 1601.4L314.9 1596.1L315.3 1594.6L315.8 1605.8L316.2 1608L316.6 1600.3L317.1 1605.7L317.5 1605.5L318 1597L318.4 1593.7L318.9 1602.1L319.3 1605.3L319.8 1600.5L320.2 1618.6L320.7 1604.5L321.1 1612.1L321.5 1591L322 1600.3L322.4 1604L322.9 1606.4L323.3 1625.6L323.8 1600.8L324.2 1595.7L324.7 1610.7L325.1 1601.4L325.5 1601.3L326 1617.7L326.4 1600.3L326.9 1598L327.3 1604.9L327.8 1607L328.2 1601.7L328.7 1618.5L329.1 1606.3L329.6 1600.4L330 1616.5L330.4 1601.1L330.9 1610.4L331.3 1624.3L331.8 1608.5L332.2 1615.1L332.7 1605.9L333.1 1617L333.6 1601.6L334 1613.8L334.5 1606.3L334.9 1613.1L335.3 1611.2L335.8 1601.5L336.2 1607.8L336.7 1612.2L337.1 1619.1L337.6 1602.2L338 1605L338.5 1612.3L338.9 1608.5L339.4 1618.1L339.8 1618.2L340.2 1616.8L340.7 1608.4L341.1 1609L341.6 1616.7L342 1606.4L342.5 1606.3L342.9 1610.5L343.4 1605L343.8 1614.2L344.3 1613.1L344.7 1609.2L345.1 1612.9L345.6 1607.4L346 1622.9L346.5 1603.9L346.9 1619.4L347.4 1614.8L347.8 1624.9L348.3 1609.8L348.7 1605.7L349.2 1607.1L349.6 1608.8L350 1627.6L350.5 1621L350.9 1618.6L351.4 1622.7L351.8 1607.8L352.3 1614.3L352.7 1616L353.2 1612.5L353.6 1623.8L354.1 1623.6L354.5 1623.6L354.9 1613.1L355.4 1614.4L355.8 1612.9L356.3 1609.8L356.7 1628.8L357.2 1622L357.6 1616.6L358.1 1629.3L358.5 1622.3L359 1611.1L359.4 1610.7L359.8 1611L360.3 1618.4L360.7 1620.5L361.2 1611.4L361.6 1622.1L362.1 1616.8L362.5 1610.2L363 1622.5L363.4 1624.7L363.9 1620L364.3 1615.6L364.7 1616.6L365.2 1619.1L365.6 1616.3L366.1 1634.9L366.5 1627.9L367 1619.6L367.4 1628.8L367.9 1632.9L368.3 1631.8L368.8 1629.2L369.2 1623L369.6 1630.4L370.1 1620L370.5 1610.2L371 1623.3L371.4 1613.1L371.9 1620.1L372.3 1632.3L372.8 1624.7L373.2 1631.2L373.7 1617.1L374.1 1633.2L374.5 1613.6L375 1618.9L375.4 1643L375.9 1617.6L376.3 1612.6L376.8 1630.6L377.2 1616.6L377.7 1641.1L378.1 1622.2L378.6 1639.9L379 1620.7L379.4 1641.6L379.9 1652.5L380.3 1621.7L380.8 1609.2L381.2 1630.1L381.7 1618.9L382.1 1624.4L382.6 1628.1L383 1620.8L383.5 1613.8L383.9 1637.1L384.3 1621.5L384.8 1623.3L385.2 1639.5L385.7 1614.5L386.1 1612.5L386.6 1635.1L387 1614.1L387.5 1626.3L387.9 1628.3L388.4 1615.9L388.8 1625.3L389.2 1624.7L389.7 1616.2L390.1 1617.8L390.6 1620.7L391 1641.1L391.5 1643.2L391.9 1619.4L392.4 1636.6L392.8 1627.1L393.3 1638.4L393.7 1630.1L394.1 1640.8L394.6 1616.7L395 1638.4L395.5 1630.1L395.9 1630.8L396.4 1620L396.8 1643.2L397.3 1629.9L397.7 1631.5L398.2 1625.5L398.6 1626.1L399 1634.2L399.5 1628.2L399.9 1633.7L400.4 1626.6L400.8 1631.5L401.3 1636.7L401.7 1631.1L402.2 1628L402.6 1614.7L403.1 1635.7L403.5 1628.9L403.9 1620.3L404.4 1654.2L404.8 1650L405.3 1643.6L405.7 1633.1L406.2 1614.6L406.6 1629.1L407.1 1623L407.5 1634.7L408 1661.3L408.4 1659.2L408.8 1624.9L409.3 1631.7L409.7 1646.4L410.2 1624.5L410.6 1649.6L411.1 1624.7L411.5 1622.5L412 1641.4L412.4 1645.3L412.9 1627.4L413.3 1645.4L413.7 1627.5L414.2 1646.9L414.6 1628.2L415.1 1634.3L415.5 1639.3L416 1644.2L416.4 1633.4L416.9 1656.7L417.3 1638.4L417.8 1639.7L418.2 1630.3L418.6 1649.2L419.1 1622.8L419.5 1639.5L420 1648.3L420.4 1625.5L420.9 1623.7L421.3 1638.8L421.8 1646.2L422.2 1637.2L422.7 1644.3L423.1 1640.6L423.5 1625.2L424 1634.4L424.4 1636.7L424.9 1635.1L425.3 1638.9L425.8 1631.2L426.2 1631L426.7 1642.3L427.1 1637.9L427.6 1620.4L428 1635.3L428.4 1641L428.9 1623.2L429.3 1639.4L429.8 1651.2L430.2 1633.8L430.7 1649.2L431.1 1645L431.6 1637.2L432 1641.5L432.5 1648.3L432.9 1646.1L433.3 1646.7L433.8 1630.8L434.2 1648.3L434.7 1646.8L435.1 1624.7L435.6 1646.9L436 1628.9L436.5 1630.3L436.9 1643.1L437.4 1657.7L437.8 1637.7L438.2 1635.9L438.7 1633.5L439.1 1641.5L439.6 1631.8L440 1630.5L440.5 1653.9L440.9 1630.4L441.4 1641.1L441.8 1648.6L442.3 1646.1L442.7 1627.5L443.1 1634.4L443.6 1664.8L444 1642.5L444.5 1644.8L444.9 1645.3L445.4 1648.9L445.8 1660.6L446.3 1636L446.7 1654.1L447.2 1647.8L447.6 1650.4L448 1651.9L448.5 1637.5L448.9 1640.7L449.4 1651.6L449.8 1654.9L450.3 1649.5L450.7 1636L451.2 1643.6L451.6 1642.7L452.1 1648.4L452.5 1647.8L452.9 1643.1L453.4 1668.3L453.8 1631.5L454.3 1654L454.7 1651.6L455.2 1633.8L455.6 1643.6L456.1 1645.4L456.5 1652.1L457 1664.8L457.4 1644.3L457.8 1635.4L458.3 1656.2L458.7 1634.2L459.2 1659.3L459.6 1654.5L460.1 1641.7L460.5 1646.7L461 1640.2L461.4 1655L461.8 1658.7L462.3 1670.9L462.7 1661.1L463.2 1659.5L463.6 1664.4L464.1 1644.3L464.5 1654.7L465 1673.6L465.4 1627.2L465.9 1657L466.3 1662.6L466.7 1636.6L467.2 1637.2L467.6 1661.5L468.1 1666.1L468.5 1659.7L469 1637.8L469.4 1651.6L469.9 1657.5L470.3 1648.8L470.8 1637.5L471.2 1665.6L471.6 1652.9L472.1 1665.7L472.5 1630.4L473 1633.1L473.4 1640.1L473.9 1650.6L474.3 1642.9L474.8 1678.1L475.2 1646.7L475.7 1665.8L476.1 1665.8L476.5 1657.6L477 1653.6L477.4 1644.2L477.9 1643.1L478.3 1647.4L478.8 1661.2L479.2 1643.6L479.7 1651.6L480.1 1639.4L480.6 1661.2L481 1692.8L481.4 1656L481.9 1632.1L482.3 1646.2L482.8 1653L483.2 1642.5L483.7 1646.1L484.1 1646.6L484.6 1657.1L485 1650.6L485.5 1649.4L485.9 1658.9L486.3 1665.3L486.8 1650.3L487.2 1642.5L487.7 1645.5L488.1 1647.1L488.6 1647.1L489 1630.3L489.5 1649.6L489.9 1642.4L490.4 1635.1L490.8 1652.1L491.2 1650L491.7 1642.7L492.1 1637.5L492.6 1649.8L493 1649.3L493.5 1652.2L493.9 1668.4L494.4 1642.6L494.8 1656.3L495.3 1677L495.7 1655.3L496.1 1677.3L496.6 1666.2L497 1653.7L497.5 1665.2L497.9 1643.6L498.4 1673.5L498.8 1651.5L499.3 1648.6L499.7 1640.6L500.2 1645.4L500.6 1652.1L501 1653.8L501.5 1655.5L501.9 1643.8L502.4 1662.8L502.8 1649.7L503.3 1656.2L503.7 1652.7L504.2 1658.3L504.6 1636.2L505.1 1663.4L505.5 1652.9L505.9 1652.7L506.4 1649.5L506.8 1651.1L507.3 1651.5L507.7 1646.2L508.2 1676.5L508.6 1656.1L509.1 1672.4L509.5 1653.9L510 1671.8L510.4 1668.6L510.8 1657.3L511.3 1643.2L511.7 1650.8L512.2 1653.7L512.6 1643.4L513.1 1669L513.5 1689L514 1662.3L514.4 1660.6L514.9 1645.2L515.3 1637.9L515.7 1675.4L516.2 1635.5L516.6 1642.7L517.1 1649.2L517.5 1653.9L518 1636.2L518.4 1657.2L518.9 1663.8L519.3 1656.7L519.8 1676.9L520.2 1653.3L520.6 1659.7L521.1 1654.9L521.5 1654.7L522 1672.5L522.4 1645.7L522.9 1672L523.3 1649.7L523.8 1681.7L524.2 1655L524.7 1669.5L525.1 1658.7L525.5 1667.3L526 1694.2L526.4 1674.2L526.9 1658.7L527.3 1652.8L527.8 1680.3L528.2 1693.4L528.7 1671L529.1 1662.3L529.6 1667.8L530 1670.3L530.4 1651.1L530.9 1650L531.3 1652.3L531.8 1672.5L532.2 1659.4L532.7 1662.7L533.1 1680.6L533.6 1651.2L534 1659.6L534.5 1666.6L534.9 1646.5L535.3 1652.6L535.8 1651.8L536.2 1648.6L536.7 1653.2L537.1 1678.6L537.6 1665.9L538 1650.6L538.5 1671.1L538.9 1660.9L539.4 1656.9L539.8 1646.9L540.2 1648.2L540.7 1652L541.1 1663.9L541.6 1652L542 1655.9L542.5 1663.8L542.9 1648L543.4 1656.4L543.8 1671.8L544.3 1649L544.7 1665.3L545.1 1655.7L545.6 1684.7L546 1662.6L546.5 1675.1L546.9 1675.6L547.4 1692.8L547.8 1642.1L548.3 1664.5L548.7 1660L549.2 1651.2L549.6 1664.4L550 1657.2L550.5 1682.6L550.9 1660.8L551.4 1668.4L551.8 1657.6L552.3 1661.2L552.7 1683.5L553.2 1692.8L553.6 1677.4L554.1 1655.4L554.5 1658.8L554.9 1659.1L555.4 1697.1L555.8 1716.2L556.3 1672L556.7 1668.1L557.2 1671.9L557.6 1660L558.1 1666.3L558.5 1681.1L559 1676.3L559.4 1662.7L559.8 1663.6L560.3 1665.5L560.7 1642.8L561.2 1668L561.6 1663.3L562.1 1678.7L562.5 1669.5L563 1659L563.4 1658.6L563.9 1667.1L564.3 1660.6L564.7 1664.6L565.2 1696.2L565.6 1719.9L566.1 1643.2L566.5 1656.4L567 1666.4L567.4 1693.6L567.9 1684.6L568.3 1651.6L568.8 1720.9L569.2 1670.2L569.6 1656.4L570.1 1664.5L570.5 1657.7L571 1668L571.4 1643.3L571.9 1681.2L572.3 1687.1L572.8 1663.4L573.2 1651.6L573.7 1667.5L574.1 1655.3L574.5 1674L575 1684.5L575.4 1652.2L575.9 1650.7L576.3 1651.1L576.8 1673.1L577.2 1684.4L577.7 1684.7L578.1 1670.4L578.6 1660.8L579 1661.7L579.4 1690.1L579.9 1665.5L580.3 1667.7L580.8 1666.9L581.2 1668.4L581.7 1670.7L582.1 1661.3L582.6 1666.7L583 1665.6L583.5 1678L583.9 1663.7L584.3 1670.1L584.8 1707L585.2 1663L585.7 1672.2L586.1 1658.3L586.6 1671L587 1670.2L587.5 1666.5L587.9 1669.3L588.4 1675.2L588.8 1699.8L589.2 1650.2L589.7 1695.2L590.1 1674L590.6 1661.8L591 1665L591.5 1662.9L591.9 1660.8L592.4 1655.8L592.8 1666.2L593.3 1643.8L593.7 1685L594.1 1667.2L594.6 1675L595 1677.7L595.5 1666.7L595.9 1654.4L596.4 1680.4L596.8 1680.5L597.3 1661.9L597.7 1664L598.1 1650.2L598.6 1658.9L599 1667.8L599.5 1675.2L599.9 1668.1L600.4 1673.1L600.8 1692.7L601.3 1670.8L601.7 1673.3L602.2 1674.1L602.6 1677L603 1653L603.5 1662.9L603.9 1660.4L604.4 1679.9L604.8 1686.8L605.3 1675.2L605.7 1668.3L606.2 1676.2L606.6 1674L607.1 1660.4L607.5 1667.9L607.9 1686.5L608.4 1677.6L608.8 1681.1L609.3 1669.5L609.7 1690L610.2 1674.2L610.6 1663.6L611.1 1671.6L611.5 1685.6L612 1680.8L612.4 1670.5L612.8 1666.2L613.3 1662.3L613.7 1674.1L614.2 1693.4L614.6 1656.5L615.1 1668.6L615.5 1667.3L616 1668.5L616.4 1688.3L616.9 1676.8L617.3 1669.2L617.7 1660.6L618.2 1671.8L618.6 1732.1L619.1 1675.9L619.5 1668.3L620 1658.1L620.4 1664.2L620.9 1647.7L621.3 1657L621.8 1657.7L622.2 1661.9L622.6 1695.7L623.1 1662.9L623.5 1665.7L624 1680.6L624.4 1665.9L624.9 1667.9L625.3 1679.8L625.8 1674.9L626.2 1676.9L626.7 1670.4L627.1 1679.3L627.5 1666.7L628 1709.1L628.4 1677.4L628.9 1703.2L629.3 1680.4L629.8 1667.2L630.2 1673.3L630.7 1675.2L631.1 1672.8L631.6 1656.3L632 1691.2L632.4 1663.2L632.9 1699.7L633.3 1680.6L633.8 1671.8L634.2 1686.9L634.7 1671.4L635.1 1665.2L635.6 1693.3L636 1675.2L636.5 1679.5L636.9 1711L637.3 1676.8L637.8 1686.3L638.2 1659.1L638.7 1687.8L639.1 1655.7L639.6 1682.2L640 1653.7L640.5 1667.8L640.9 1668.9L641.4 1664.9L641.8 1663.9L642.2 1658.8L642.7 1655.7L643.1 1679.7L643.6 1695.4L644 1734.4L644.5 1680.5L644.9 1665.7L645.4 1670.2L645.8 1673.6L646.3 1680.1L646.7 1684.7L647.1 1679.2L647.6 1670.3L648 1707.9L648.5 1666.4L648.9 1700.6L649.4 1677.7L649.8 1685L650.3 1680.8L650.7 1692.3L651.2 1694.5L651.6 1679L652 1693.3L652.5 1650.3L652.9 1681.9L653.4 1685.8L653.8 1684.1L654.3 1693.4L654.7 1732L655.2 1679.8L655.6 1672.2L656.1 1702.8L656.5 1676.2L656.9 1696.5L657.4 1676.9L657.8 1671.8L658.3 1670.3L658.7 1670.9L659.2 1687.3L659.6 1665.9L660.1 1683.2L660.5 1672.2L661 1668L661.4 1681.2L661.8 1698.7L662.3 1669.2L662.7 1695.4L663.2 1691.1L663.6 1695.2L664.1 1666.7L664.5 1679.5L665 1726L665.4 1668.1L665.9 1654.8L666.3 1657.2L666.7 1686L667.2 1676.4L667.6 1670.9L668.1 1666.5L668.5 1677.1L669 1695.8L669.4 1668.2L669.9 1669.9L670.3 1700.9L670.8 1683.2L671.2 1674.3L671.6 1678L672.1 1671.2L672.5 1668.1L673 1671.1L673.4 1679.8L673.9 1701.8L674.3 1670.4L674.8 1661.9L675.2 1656.5L675.7 1678.9L676.1 1679L676.5 1661.6L677 1661.7L677.4 1674.1L677.9 1669.6L678.3 1690.7L678.8 1671.2L679.2 1692L679.7 1681L680.1 1680.7L680.6 1686L681 1724.4L681.4 1692.3L681.9 1674.6L682.3 1680L682.8 1685.1L683.2 1673.6L683.7 1670.5L684.1 1668.7L684.6 1692.4L685 1679.2L685.5 1684.5L685.9 1693.9L686.3 1707.3L686.8 1681.1L687.2 1694L687.7 1656.1L688.1 1681.3L688.6 1683.2L689 1685.9L689.5 1658.7L689.9 1695.7L690.4 1682.4L690.8 1692.5L691.2 1682L691.7 1680.8L692.1 1666.7L692.6 1706.3L693 1680.7L693.5 1661.6L693.9 1688.4L694.4 1683.2L694.8 1695.2L695.3 1739.9L695.7 1682.2L696.1 1666.3L696.6 1688L697 1718.7L697.5 1677.2L697.9 1679.9L698.4 1668.4L698.8 1669.5L699.3 1685.2L699.7 1675.7L700.2 1717.8L700.6 1667.4L701 1678.7L701.5 1667.8L701.9 1668.1L702.4 1685.8L702.8 1683.7L703.3 1696.2L703.7 1727.4L704.2 1683.6L704.6 1679.6L705.1 1700.7L705.5 1672.5L705.9 1680.5L706.4 1675.8L706.8 1694.6L707.3 1718.1L707.7 1672L708.2 1674L708.6 1683.8L709.1 1688.8L709.5 1686.5L710 1684.4" stroke="#F2B473"/>
<path d="M116.2 1799.3L116.6 1790.4L117.1 1794.7L117.5 1770.6L118 1732.2L118.4 1810.7L118.9 1739.1L119.3 1734.6L119.8 1763.6L120.2 1772.8L120.7 1746.7L121.1 1735.3L121.5 1723.8L122 1739.9L122.4 1730.3L122.9 1766L123.3 1778.2L123.8 1815.1L124.2 1788.3L124.7 1763.8L125.1 1751.8L125.6 1795.2L126 1741.1L126.4 1757.8L126.9 1771.1L127.3 1774.8L127.8 1725.3L128.2 1752.2L128.7 1779L129.1 1780.9L129.6 1727.4L130 1769.4L130.5 1735.6L130.9 1732.5L131.3 1815.1L131.8 1733.4L132.2 1760.1L132.7 1785.6L133.1 1768.4L133.6 1745.2L134 1748.4L134.5 1747.5L134.9 1773.5L135.4 1734.4L135.8 1731.5L136.2 1727.4L136.7 1738.3L137.1 1726.7L137.6 1724.5L138 1742.8L138.5 1740.1L138.9 1744.8L139.4 1745.3L139.8 1740.3L140.3 1815.1L140.7 1762.8L141.1 1746.4L141.6 1815.1L142 1801.5L142.5 1730.4L142.9 1784.7L143.4 1766.3L143.8 1748.4L144.3 1766.6L144.7 1777.8L145.2 1767.7L145.6 1765.4L146 1769.4L146.5 1752L146.9 1730.1L147.4 1748.7L147.8 1729.9L148.3 1742.3L148.7 1740.8L149.2 1744.7L149.6 1762.2L150.1 1747.6L150.5 1749.7L150.9 1786.7L151.4 1742.1L151.8 1744.9L152.3 1748.5L152.7 1768.8L153.2 1815.1L153.6 1731.9L154.1 1757.1L154.5 1815.1L155 1743.7L155.4 1772.8L155.8 1743.1L156.3 1757.8L156.7 1736.4L157.2 1751L157.6 1750.1L158.1 1752.6L158.5 1735L159 1794.4L159.4 1735.8L159.9 1743.1L160.3 1768.7L160.7 1755.7L161.2 1765.9L161.6 1754.4L162.1 1739.2L162.5 1772.2L163 1717.8L163.4 1649.1L163.9 1581.8L164.3 1508.1L164.8 1438.5L165.2 1365.3L165.6 1375.4L166.1 1385.1L166.5 1394.2L167 1402.6L167.4 1410L167.9 1416.1L168.3 1420.9L168.8 1425L169.2 1428.6L169.7 1431.9L170.1 1434.9L170.5 1437.6L171 1440.2L171.4 1442.6L171.9 1445.1L172.3 1447.5L172.8 1450L173.2 1452.6L173.7 1455.2L174.1 1457.7L174.6 1460.1L175 1462.5L175.4 1464.9L175.9 1467.2L176.3 1469.4L176.8 1471.6L177.2 1473.6L177.7 1475.7L178.1 1477.6L178.6 1479.5L179 1480.8L179.5 1481.1L179.9 1483L180.3 1487.6L180.8 1488.2L181.2 1490.4L181.7 1490.7L182.1 1489.8L182.6 1494.2L183 1497.1L183.5 1492.2L183.9 1500.4L184.4 1499.6L184.8 1500.8L185.2 1504.8L185.7 1501.4L186.1 1502L186.6 1505.5L187 1506.3L187.5 1507.8L187.9 1512.7L188.4 1508.9L188.8 1513.4L189.2 1513.7L189.7 1511.4L190.1 1511.1L190.6 1516.4L191 1512.4L191.5 1511.8L191.9 1516.5L192.4 1517.9L192.8 1518.1L193.3 1520.5L193.7 1522.5L194.1 1519.5L194.6 1520.1L195 1524.1L195.5 1524.7L195.9 1526.1L196.4 1527.1L196.8 1528.7L197.3 1531.2L197.7 1525.2L198.2 1529.5L198.6 1529.1L199 1525.2L199.5 1532.2L199.9 1530L200.4 1536.4L200.8 1534.9L201.3 1531.8L201.7 1535.3L202.2 1539.6L202.6 1540.6L203.1 1535.3L203.5 1539.8L203.9 1535.4L204.4 1537.2L204.8 1539.5L205.3 1539.2L205.7 1537.2L206.2 1539.9L206.6 1543.5L207.1 1539.8L207.5 1542.5L208 1542.5L208.4 1540.4L208.8 1541.6L209.3 1539.9L209.7 1544L210.2 1545.3L210.6 1545.4L211.1 1543.4L211.5 1547.7L212 1546.6L212.4 1548.7L212.9 1548.9L213.3 1547.3L213.7 1539.6L214.2 1548.8L214.6 1547L215.1 1548L215.5 1549.3L216 1549L216.4 1543.2L216.9 1550.8L217.3 1545.1L217.8 1548.5L218.2 1554.1L218.6 1553.7L219.1 1553.4L219.5 1556.1L220 1548.7L220.4 1551.5L220.9 1551.5L221.3 1557.5L221.8 1552.4L222.2 1556.4L222.7 1546.8L223.1 1555.5L223.5 1554.6L224 1554.5L224.4 1558.1L224.9 1558.1L225.3 1558.5L225.8 1554.4L226.2 1560.6L226.7 1558.8L227.1 1557.4L227.6 1560.5L228 1564.7L228.4 1564.4L228.9 1561.7L229.3 1564.3L229.8 1557.3L230.2 1561.2L230.7 1561.7L231.1 1566L231.6 1560.4L232 1564.2L232.5 1567L232.9 1566.1L233.3 1555.4L233.8 1566.7L234.2 1568.2L234.7 1560.7L235.1 1562.5L235.6 1566.9L236 1560.9L236.5 1572.6L236.9 1568.7L237.4 1574.2L237.8 1562.2L238.2 1567.6L238.7 1558.6L239.1 1566.6L239.6 1566.8L240 1573.9L240.5 1574.5L240.9 1571.8L241.4 1566.4L241.8 1574.9L242.3 1581.8L242.7 1567.6L243.1 1567.6L243.6 1575.7L244 1570.1L244.5 1567.7L244.9 1567.8L245.4 1580.1L245.8 1572.9L246.3 1576.9L246.7 1569.8L247.2 1573.7L247.6 1580L248 1574.2L248.5 1572.5L248.9 1582.6L249.4 1581.9L249.8 1579L250.3 1577.5L250.7 1579L251.2 1585.7L251.6 1584.6L252.1 1577.5L252.5 1575.7L252.9 1582L253.4 1577.3L253.8 1570.4L254.3 1579.5L254.7 1580.9L255.2 1582.4L255.6 1577.2L256.1 1578.5L256.5 1578.6L257 1581.8L257.4 1578.4L257.8 1578.6L258.3 1581.4L258.7 1575.8L259.2 1589.1L259.6 1578.2L260.1 1582.2L260.5 1578L261 1573.8L261.4 1582.1L261.9 1583.4L262.3 1582.9L262.7 1576.8L263.2 1576.3L263.6 1582.6L264.1 1580.6L264.5 1575.9L265 1581.5L265.4 1592.1L265.9 1588.6L266.3 1587.1L266.8 1583L267.2 1587.9L267.6 1579L268.1 1587.9L268.5 1578.6L269 1589.3L269.4 1579.9L269.9 1585.4L270.3 1580L270.8 1577.9L271.2 1578.9L271.7 1582.2L272.1 1591.2L272.5 1591.8L273 1604L273.4 1581L273.9 1582.1L274.3 1583.4L274.8 1594.6L275.2 1576.6L275.7 1592.4L276.1 1584.8L276.6 1598.3L277 1592.7L277.4 1583.7L277.9 1584.8L278.3 1595.9L278.8 1590.6L279.2 1584.9L279.7 1601.2L280.1 1586.9L280.6 1599.8L281 1588L281.5 1592.8L281.9 1586.7L282.3 1594.6L282.8 1593.9L283.2 1594.2L283.7 1597.8L284.1 1594.2L284.6 1598.7L285 1596.3L285.5 1589.8L285.9 1595.3L286.4 1588.3L286.8 1590.3L287.2 1589.9L287.7 1600.9L288.1 1592.3L288.6 1587.5L289 1590.2L289.5 1588.8L289.9 1587.6L290.4 1604.6L290.8 1592.6L291.3 1592.9L291.7 1597.1L292.1 1604.1L292.6 1595.6L293 1597.5L293.5 1587L293.9 1590.2L294.4 1599.5L294.8 1603.7L295.3 1602.6L295.7 1598L296.2 1602.2L296.6 1588.1L297 1605.5L297.5 1599L297.9 1597.8L298.4 1596.5L298.8 1604.6L299.3 1600.5L299.7 1598.3L300.2 1597.7L300.6 1603.2L301.1 1601.7L301.5 1598.8L301.9 1590.3L302.4 1607.9L302.8 1596.7L303.3 1592.4L303.7 1609.7L304.2 1593.3L304.6 1593.7L305.1 1601L305.5 1596.2L306 1593.7L306.4 1602.7L306.8 1600.6L307.3 1608.8L307.7 1606.5L308.2 1602L308.6 1603.1L309.1 1594.1L309.5 1604.2L310 1610.7L310.4 1598.2L310.9 1598.2L311.3 1601.2L311.7 1604.5L312.2 1608.7L312.6 1608L313.1 1595.8L313.5 1599.8L314 1603.8L314.4 1602.2L314.9 1606.9L315.3 1610.8L315.8 1608L316.2 1605.6L316.6 1616.5L317.1 1615.2L317.5 1617.5L318 1608.8L318.4 1602.6L318.9 1615.2L319.3 1614L319.8 1617.7L320.2 1609.9L320.7 1615L321.1 1613.9L321.5 1614.8L322 1595.3L322.4 1608.3L322.9 1612.1L323.3 1610.9L323.8 1603L324.2 1602.6L324.7 1606.8L325.1 1622.7L325.5 1602.9L326 1602.6L326.4 1604.3L326.9 1606.2L327.3 1608.8L327.8 1602.3L328.2 1611.4L328.7 1603.4L329.1 1612.9L329.6 1612.4L330 1612.9L330.4 1613.8L330.9 1613.5L331.3 1605.8L331.8 1601.5L332.2 1615.4L332.7 1618L333.1 1603.6L333.6 1613.3L334 1609.5L334.5 1610.5L334.9 1606L335.3 1617.8L335.8 1605L336.2 1607.1L336.7 1629L337.1 1613.4L337.6 1615L338 1610.2L338.5 1613.2L338.9 1618.2L339.4 1615.5L339.8 1611.1L340.2 1613.2L340.7 1614.7L341.1 1601L341.6 1610.6L342 1622.2L342.5 1613.6L342.9 1612.4L343.4 1621.8L343.8 1614.2L344.3 1621.1L344.7 1633L345.1 1613.2L345.6 1611.6L346 1611.9L346.5 1617L346.9 1620.4L347.4 1614.8L347.8 1613.8L348.3 1610.9L348.7 1608.6L349.2 1611.9L349.6 1621.4L350 1617.9L350.5 1628.4L350.9 1613.2L351.4 1614.2L351.8 1610.6L352.3 1615.1L352.7 1608.8L353.2 1623.8L353.6 1616.7L354.1 1620.8L354.5 1620.8L354.9 1633.6L355.4 1625.2L355.8 1636.2L356.3 1622.4L356.7 1625.4L357.2 1619.5L357.6 1635.5L358.1 1624.7L358.5 1622.9L359 1641.1L359.4 1611L359.8 1618.3L360.3 1627.6L360.7 1610L361.2 1613.2L361.6 1644.2L362.1 1624.6L362.5 1627.3L363 1622.4L363.4 1630.3L363.9 1625L364.3 1622.6L364.7 1645.9L365.2 1622.6L365.6 1614.3L366.1 1622.8L366.5 1616.1L367 1613.6L367.4 1622L367.9 1621.4L368.3 1621.4L368.8 1627.7L369.2 1610.1L369.6 1621.5L370.1 1620.8L370.5 1618.3L371 1615.1L371.4 1636.4L371.9 1633.5L372.3 1624.3L372.8 1621.8L373.2 1635.6L373.7 1637.2L374.1 1620.5L374.5 1620.9L375 1628.4L375.4 1628.6L375.9 1631.5L376.3 1636.4L376.8 1633.9L377.2 1625.8L377.7 1628.6L378.1 1620.5L378.6 1638.7L379 1642.7L379.4 1623.6L379.9 1635.7L380.3 1630.6L380.8 1628L381.2 1639.2L381.7 1642.1L382.1 1626.7L382.6 1655.2L383 1624.4L383.5 1645.4L383.9 1623.4L384.3 1627.1L384.8 1627.8L385.2 1626L385.7 1628.7L386.1 1642.1L386.6 1624L387 1629.2L387.5 1626.8L387.9 1631.5L388.4 1632.6L388.8 1623.9L389.2 1623.9L389.7 1629.1L390.1 1641.6L390.6 1639.1L391 1639.9L391.5 1623.2L391.9 1627.5L392.4 1630.9L392.8 1632.7L393.3 1637.8L393.7 1625.6L394.1 1640.8L394.6 1639.1L395 1625.7L395.5 1627.3L395.9 1632.7L396.4 1643.5L396.8 1643.6L397.3 1626.1L397.7 1629.6L398.2 1622L398.6 1636.6L399 1633.5L399.5 1641.1L399.9 1621.4L400.4 1649L400.8 1628.6L401.3 1621.9L401.7 1641.9L402.2 1647L402.6 1642.8L403.1 1647.1L403.5 1631.4L403.9 1635L404.4 1642.4L404.8 1636.9L405.3 1623.7L405.7 1636.9L406.2 1638.3L406.6 1621.3L407.1 1643.2L407.5 1639.4L408 1624.7L408.4 1635.4L408.8 1654.9L409.3 1643.9L409.7 1659.8L410.2 1642.2L410.6 1634L411.1 1652.9L411.5 1625.5L412 1627.5L412.4 1630.9L412.9 1644L413.3 1637.3L413.7 1633.2L414.2 1630.3L414.6 1628.2L415.1 1661.1L415.5 1644.7L416 1649.5L416.4 1641.6L416.9 1637L417.3 1622.3L417.8 1639.8L418.2 1631.9L418.6 1638.3L419.1 1639.7L419.5 1626.4L420 1650.4L420.4 1634.3L420.9 1624.6L421.3 1620.8L421.8 1645L422.2 1649.3L422.7 1653L423.1 1644.4L423.5 1640.8L424 1640.8L424.4 1632.1L424.9 1644.1L425.3 1638.7L425.8 1658.9L426.2 1648L426.7 1643.2L427.1 1669.4L427.6 1641.1L428 1635L428.4 1641.7L428.9 1640.6L429.3 1642.7L429.8 1654.9L430.2 1642.5L430.7 1648.4L431.1 1642.4L431.6 1642.7L432 1642.4L432.5 1657.2L432.9 1644.2L433.3 1630.1L433.8 1636.1L434.2 1646.2L434.7 1651.3L435.1 1636.1L435.6 1644.5L436 1664.3L436.5 1649L436.9 1631.4L437.4 1663.7L437.8 1644.6L438.2 1652.8L438.7 1646.1L439.1 1649.6L439.6 1654.7L440 1678.6L440.5 1648.1L440.9 1645.8L441.4 1647.5L441.8 1657.5L442.3 1652.6L442.7 1629.3L443.1 1658.6L443.6 1650L444 1660.4L444.5 1649.2L444.9 1644.9L445.4 1636.9L445.8 1645.3L446.3 1647.4L446.7 1644.2L447.2 1642.5L447.6 1648L448 1647.9L448.5 1637.4L448.9 1655.2L449.4 1648.8L449.8 1657.8L450.3 1653.4L450.7 1635.8L451.2 1655.7L451.6 1643.8L452.1 1631.7L452.5 1643.9L452.9 1650.4L453.4 1657L453.8 1682.7L454.3 1659.3L454.7 1659L455.2 1640.8L455.6 1643.1L456.1 1664L456.5 1643.9L457 1656.3L457.4 1634.6L457.8 1637.2L458.3 1643.7L458.7 1653.9L459.2 1635.2L459.6 1642L460.1 1639.8L460.5 1644.9L461 1652.4L461.4 1642.8L461.8 1658.6L462.3 1642.8L462.7 1648.2L463.2 1669.3L463.6 1645.7L464.1 1650.7L464.5 1654.2L465 1651.3L465.4 1643.5L465.9 1663.1L466.3 1662.5L466.7 1644.2L467.2 1649.2L467.6 1671.7L468.1 1650L468.5 1671.6L469 1645L469.4 1648.9L469.9 1647.1L470.3 1669.8L470.8 1660.4L471.2 1644.2L471.6 1668.5L472.1 1647.5L472.5 1654.7L473 1651.2L473.4 1661.7L473.9 1647.2L474.3 1649.1L474.8 1645.1L475.2 1632.9L475.7 1655.2L476.1 1652.4L476.5 1664.9L477 1638.2L477.4 1656.9L477.9 1646.1L478.3 1666.2L478.8 1656L479.2 1647.7L479.7 1648.9L480.1 1656.3L480.6 1645.3L481 1652.4L481.4 1644L481.9 1656.1L482.3 1647.6L482.8 1658.7L483.2 1642.4L483.7 1653.8L484.1 1653.3L484.6 1660L485 1644.8L485.5 1652.6L485.9 1656.5L486.3 1642.6L486.8 1662.7L487.2 1645.5L487.7 1641.5L488.1 1676.1L488.6 1646.5L489 1649.7L489.5 1653.1L489.9 1651.7L490.4 1669.6L490.8 1650.6L491.2 1653.3L491.7 1673.8L492.1 1657.8L492.6 1670.1L493 1655.1L493.5 1666.2L493.9 1655.2L494.4 1673.8L494.8 1662.4L495.3 1661.1L495.7 1659L496.1 1646.4L496.6 1638.5L497 1676L497.5 1649.2L497.9 1660.2L498.4 1660.4L498.8 1660.7L499.3 1659.1L499.7 1658.5L500.2 1649.7L500.6 1646L501 1654.2L501.5 1657.3L501.9 1652.3L502.4 1653.9L502.8 1642.1L503.3 1669.1L503.7 1675.3L504.2 1661.3L504.6 1655.5L505.1 1661.1L505.5 1656.6L505.9 1698.2L506.4 1668.1L506.8 1667L507.3 1676.3L507.7 1666.6L508.2 1662.5L508.6 1656.2L509.1 1671.3L509.5 1682.4L510 1656.5L510.4 1643.5L510.8 1659.2L511.3 1659.6L511.7 1673L512.2 1658.9L512.6 1646.7L513.1 1688.7L513.5 1651.5L514 1688.7L514.4 1647.6L514.9 1653.4L515.3 1664.9L515.7 1658.6L516.2 1646.4L516.6 1674.7L517.1 1650.4L517.5 1655.8L518 1661.7L518.4 1648.3L518.9 1683.5L519.3 1663.1L519.8 1676.7L520.2 1662.5L520.6 1656.6L521.1 1683.3L521.5 1659.3L522 1659.3L522.4 1669.1L522.9 1663.3L523.3 1652L523.8 1659.3L524.2 1647.6L524.7 1675.6L525.1 1678.6L525.5 1651.4L526 1680L526.4 1651.3L526.9 1663.2L527.3 1656.3L527.8 1667L528.2 1653L528.7 1650.6L529.1 1651.6L529.6 1658.2L530 1680.2L530.4 1653.9L530.9 1662.3L531.3 1650.9L531.8 1683.3L532.2 1658.9L532.7 1668.6L533.1 1663.9L533.6 1655L534 1655.5L534.5 1650.3L534.9 1659L535.3 1658.2L535.8 1660.5L536.2 1678.1L536.7 1653.5L537.1 1673.8L537.6 1670L538 1659.6L538.5 1672.1L538.9 1669.6L539.4 1703.5L539.8 1675.1L540.2 1678.6L540.7 1672.2L541.1 1659.3L541.6 1668L542 1666.6L542.5 1663.9L542.9 1655.1L543.4 1654.5L543.8 1660.8L544.3 1667.9L544.7 1656.3L545.1 1668.6L545.6 1667.3L546 1662.1L546.5 1671L546.9 1679.1L547.4 1681.2L547.8 1668.9L548.3 1663.3L548.7 1659L549.2 1674.9L549.6 1663.3L550 1665.3L550.5 1670.8L550.9 1643.8L551.4 1674.4L551.8 1675.7L552.3 1664.2L552.7 1651.3L553.2 1669.8L553.6 1653L554.1 1678.2L554.5 1670.2L554.9 1667.9L555.4 1668.7L555.8 1665.3L556.3 1667L556.7 1668.1L557.2 1677.9L557.6 1660.8L558.1 1665.3L558.5 1663.3L559 1654.5L559.4 1660.7L559.8 1663.3L560.3 1652.6L560.7 1670.8L561.2 1686.2L561.6 1672.4L562.1 1681.1L562.5 1668.8L563 1668.7L563.4 1666.9L563.9 1663.3L564.3 1660L564.7 1662L565.2 1664.9L565.6 1669.9L566.1 1672.2L566.5 1667L567 1669.8L567.4 1680.3L567.9 1671.8L568.3 1660.3L568.8 1666.8L569.2 1677.3L569.6 1665.1L570.1 1661.3L570.5 1680.9L571 1652.5L571.4 1656.8L571.9 1669.5L572.3 1657.2L572.8 1665.2L573.2 1661.6L573.7 1678.4L574.1 1673.5L574.5 1670.6L575 1669.3L575.4 1673.8L575.9 1689.1L576.3 1682.1L576.8 1664.2L577.2 1673.2L577.7 1653.5L578.1 1656.2L578.6 1671.6L579 1667.1L579.4 1694.6L579.9 1662.3L580.3 1658.8L580.8 1678.7L581.2 1678.9L581.7 1676.3L582.1 1662.5L582.6 1659.7L583 1682L583.5 1674.4L583.9 1664.7L584.3 1667.9L584.8 1673.6L585.2 1665L585.7 1681.4L586.1 1690.1L586.6 1664.2L587 1663.2L587.5 1658.1L587.9 1674.1L588.4 1680.8L588.8 1670L589.2 1671.7L589.7 1670.2L590.1 1671.8L590.6 1658.3L591 1667.8L591.5 1658.3L591.9 1679.6L592.4 1683.7L592.8 1662.2L593.3 1686.9L593.7 1686.1L594.1 1685.9L594.6 1697.8L595 1666.9L595.5 1656.1L595.9 1666L596.4 1663.5L596.8 1676L597.3 1684.1L597.7 1666.6L598.1 1687.2L598.6 1693.3L599 1683.1L599.5 1662L599.9 1668.6L600.4 1675.6L600.8 1686.7L601.3 1684.9L601.7 1669.5L602.2 1674.1L602.6 1682.8L603 1661.8L603.5 1681.5L603.9 1696.4L604.4 1676.6L604.8 1662.8L605.3 1666.4L605.7 1664.3L606.2 1684.3L606.6 1669.2L607.1 1672.6L607.5 1677.1L607.9 1689.6L608.4 1661.9L608.8 1673.2L609.3 1681.3L609.7 1666.6L610.2 1651.6L610.6 1696.2L611.1 1671.9L611.5 1657.3L612 1657.2L612.4 1688.8L612.8 1681.8L613.3 1708.2L613.7 1675.8L614.2 1698.6L614.6 1690.4L615.1 1661.5L615.5 1693L616 1703.8L616.4 1675.8L616.9 1673.5L617.3 1673.2L617.7 1663.5L618.2 1684.7L618.6 1677.2L619.1 1668.5L619.5 1680.7L620 1661.3L620.4 1665.1L620.9 1675L621.3 1677.5L621.8 1674.9L622.2 1671.7L622.6 1706.7L623.1 1693.7L623.5 1686L624 1687L624.4 1684.1L624.9 1683.8L625.3 1675.2L625.8 1680.3L626.2 1672.4L626.7 1672.8L627.1 1677.2L627.5 1682L628 1686.6L628.4 1668.3L628.9 1682.9L629.3 1674.6L629.8 1668.4L630.2 1674.9L630.7 1702.2L631.1 1688.1L631.6 1658.2L632 1703.9L632.4 1664.8L632.9 1694.4L633.3 1677.5L633.8 1666.9L634.2 1693.4L634.7 1667.8L635.1 1720.2L635.6 1681.2L636 1688.1L636.5 1674.5L636.9 1670.6L637.3 1666.5L637.8 1667L638.2 1685.3L638.7 1693L639.1 1674.7L639.6 1687.4L640 1719.4L640.5 1721.7L640.9 1686.3L641.4 1686.3L641.8 1679.8L642.2 1678.4L642.7 1708.2L643.1 1677.4L643.6 1699.1L644 1675.9L644.5 1681.6L644.9 1664.1L645.4 1676.8L645.8 1689.1L646.3 1684.9L646.7 1680.9L647.1 1674.5L647.6 1672.3L648 1694.4L648.5 1696.9L648.9 1672.4L649.4 1681.1L649.8 1668.9L650.3 1675.1L650.7 1662.9L651.2 1673.3L651.6 1699.9L652 1686.7L652.5 1674.3L652.9 1696.8L653.4 1680.8L653.8 1672.9L654.3 1668.3L654.7 1670.8L655.2 1705.4L655.6 1667.7L656.1 1693.8L656.5 1679.8L656.9 1692.6L657.4 1670L657.8 1681.5L658.3 1677.7L658.7 1675.4L659.2 1681.5L659.6 1689.4L660.1 1665.2L660.5 1673.6L661 1671.6L661.4 1709.9L661.8 1715.8L662.3 1663.2L662.7 1672.5L663.2 1710.6L663.6 1676L664.1 1680L664.5 1695.6L665 1687L665.4 1662.3L665.9 1691.5L666.3 1675.7L666.7 1693L667.2 1706.4L667.6 1657.6L668.1 1673.7L668.5 1688.3L669 1686.8L669.4 1685.6L669.9 1697.9L670.3 1676.8L670.8 1674.7L671.2 1688.1L671.6 1683.1L672.1 1703.1L672.5 1679.4L673 1718.7L673.4 1684.1L673.9 1666.8L674.3 1686.7L674.8 1656.3L675.2 1699.7L675.7 1686.3L676.1 1683.3L676.5 1672.3L677 1669.5L677.4 1680.8L677.9 1708.1L678.3 1667.4L678.8 1675.3L679.2 1673.7L679.7 1710L680.1 1677.5L680.6 1685.7L681 1672.3L681.4 1665L681.9 1696.2L682.3 1685.2L682.8 1683.4L683.2 1695.2L683.7 1677.3L684.1 1677.7L684.6 1697.3L685 1696.9L685.5 1680.9L685.9 1715.7L686.3 1680.3L686.8 1674.2L687.2 1674.3L687.7 1698.4L688.1 1665.3L688.6 1662.8L689 1701.6L689.5 1665.7L689.9 1669.5L690.4 1673.6L690.8 1694.9L691.2 1672.3L691.7 1700.5L692.1 1683.1L692.6 1674.1L693 1677.3L693.5 1687L693.9 1678.8L694.4 1684.8L694.8 1679.7L695.3 1693.8L695.7 1700.6L696.1 1690.7L696.6 1701.8L697 1670.8L697.5 1658.3L697.9 1675.3L698.4 1670.4L698.8 1698.7L699.3 1685.1L699.7 1699.9L700.2 1676L700.6 1682L701 1698L701.5 1668.5L701.9 1684.1L702.4 1674.7L702.8 1673.6L703.3 1668.5L703.7 1669.9L704.2 1683.5L704.6 1687.1L705.1 1693.1L705.5 1700L705.9 1666.3L706.4 1692.7L706.8 1669.7L707.3 1697.9L707.7 1695.8L708.2 1674.6L708.6 1688.3L709.1 1698.1L709.5 1668.9L710 1707.2" stroke="#7585BD"/>
<path d="M116.2 1804.3L116.6 1824.2L117.1 1800.3L117.5 1811.6L118 1845.1L118.4 1791.7L118.9 1814.5L119.3 1799.7L119.8 1774.4L120.2 1807L120.7 1834.8L121.1 1826.6L121.5 1791.4L122 1842.7L122.4 1807.1L122.9 1804.7L123.3 1836.4L123.8 1809L124.2 1801L124.7 1828.5L125.1 1822.5L125.6 1801.2L126 1839.5L126.4 1830.8L126.9 1792.7L127.3 1810.7L127.8 1841.9L128.2 1812.3L128.7 1772.3L129.1 1843.9L129.6 1795.6L130 1796.8L130.5 1816.2L130.9 1800L131.3 1826.5L131.8 1780.5L132.2 1776.9L132.7 1830.8L133.1 1816.9L133.6 1809.8L134 1825.5L134.5 1805.2L134.9 1834L135.4 1800.5L135.8 1818.8L136.2 1813.5L136.7 1802.8L137.1 1793.3L137.6 1832.9L138 1796.2L138.5 1794.3L138.9 1814.9L139.4 1780.6L139.8 1828.4L140.3 1823.8L140.7 1804.6L141.1 1826.6L141.6 1783.6L142 1808.4L142.5 1776.9L142.9 1834.4L143.4 1832.2L143.8 1784.8L144.3 1834.3L144.7 1790.2L145.2 1829.3L145.6 1807L146 1788.3L146.5 1813.7L146.9 1836.3L147.4 1822.6L147.8 1788.9L148.3 1808.5L148.7 1797.8L149.2 1810.7L149.6 1806.5L150.1 1816.4L150.5 1833.5L150.9 1801.2L151.4 1808.7L151.8 1846.7L152.3 1812.3L152.7 1792.3L153.2 1772.4L153.6 1840.5L154.1 1810.1L154.5 1800.9L155 1796.7L155.4 1826.9L155.8 1801.8L156.3 1821.1L156.7 1813.4L157.2 1823.5L157.6 1806.1L158.1 1820.5L158.5 1806.2L159 1814.2L159.4 1793.4L159.9 1777.6L160.3 1814.1L160.7 1827.7L161.2 1817.2L161.6 1823.5L162.1 1846.7L162.5 1811.9L163 1794.7L163.4 1689.6L163.9 1617.5L164.3 1530.9L164.8 1449.2L165.2 1365.3L165.6 1380.4L166.1 1394.9L166.5 1408.6L167 1421.3L167.4 1432.5L167.9 1442.1L168.3 1449.8L168.8 1456.7L169.2 1463.1L169.7 1469L170.1 1474.5L170.5 1479.6L171 1485.3L171.4 1489.4L171.9 1495.2L172.3 1498.1L172.8 1498.3L173.2 1500.1L173.7 1506.7L174.1 1506.1L174.6 1508.3L175 1505.9L175.4 1514.7L175.9 1516.1L176.3 1518.7L176.8 1516.8L177.2 1518L177.7 1522.2L178.1 1520.2L178.6 1520.4L179 1527.2L179.5 1526.5L179.9 1529.5L180.3 1531.8L180.8 1532.8L181.2 1533.7L181.7 1537.3L182.1 1535.8L182.6 1534.9L183 1540.1L183.5 1540.3L183.9 1542.3L184.4 1540.2L184.8 1542.5L185.2 1540.9L185.7 1545L186.1 1549L186.6 1544.8L187 1548.1L187.5 1545.3L187.9 1547.5L188.4 1557.5L188.8 1556.9L189.2 1552.5L189.7 1555.8L190.1 1561.1L190.6 1557.4L191 1553.3L191.5 1556.2L191.9 1561.7L192.4 1559.3L192.8 1558.2L193.3 1562.8L193.7 1557.8L194.1 1566.3L194.6 1558.5L195 1561.1L195.5 1565.1L195.9 1566.9L196.4 1568.3L196.8 1572.3L197.3 1566.8L197.7 1566.6L198.2 1568.9L198.6 1571.4L199 1572.7L199.5 1577L199.9 1576.8L200.4 1580.2L200.8 1574.3L201.3 1579.8L201.7 1574.4L202.2 1580.4L202.6 1573.6L203.1 1573.7L203.5 1574.5L203.9 1576.5L204.4 1582.4L204.8 1583.1L205.3 1585.3L205.7 1582L206.2 1577.5L206.6 1588.5L207.1 1575.7L207.5 1587.8L208 1590.7L208.4 1585.4L208.8 1583.1L209.3 1589.3L209.7 1592.5L210.2 1582L210.6 1593.9L211.1 1586.1L211.5 1590L212 1592.6L212.4 1591.4L212.9 1596.6L213.3 1597.2L213.7 1591.8L214.2 1597.9L214.6 1597.3L215.1 1588.4L215.5 1587.4L216 1590.8L216.4 1592.1L216.9 1597.4L217.3 1596.4L217.8 1600.4L218.2 1609.4L218.6 1597.3L219.1 1597.6L219.5 1594.6L220 1604.7L220.4 1594.7L220.9 1602.7L221.3 1606.2L221.8 1602.3L222.2 1597.3L222.7 1602L223.1 1600.4L223.5 1606.8L224 1601L224.4 1599.1L224.9 1608.1L225.3 1602.5L225.8 1611.1L226.2 1604.2L226.7 1612.7L227.1 1604.2L227.6 1606.6L228 1612.3L228.4 1605.6L228.9 1612.5L229.3 1607.8L229.8 1613L230.2 1606.4L230.7 1612.2L231.1 1602.8L231.6 1608L232 1608L232.5 1617.6L232.9 1621.8L233.3 1615.8L233.8 1603.1L234.2 1617.4L234.7 1606.8L235.1 1607L235.6 1616.8L236 1615.3L236.5 1607.9L236.9 1616.3L237.4 1617.5L237.8 1618.8L238.2 1615.8L238.7 1617.2L239.1 1610.5L239.6 1616.1L240 1611.5L240.5 1618.7L240.9 1605.1L241.4 1619.5L241.8 1620.1L242.3 1624L242.7 1629.2L243.1 1625.1L243.6 1619.6L244 1626.6L244.5 1617L244.9 1630.9L245.4 1631.6L245.8 1620.9L246.3 1620.9L246.7 1629.7L247.2 1617.6L247.6 1616.2L248 1622.4L248.5 1632.1L248.9 1618L249.4 1627.1L249.8 1626.8L250.3 1623.4L250.7 1630.5L251.2 1618.1L251.6 1630.8L252.1 1621.3L252.5 1623.3L252.9 1617.8L253.4 1625.5L253.8 1623.7L254.3 1631.5L254.7 1630.9L255.2 1633.4L255.6 1625.6L256.1 1634.3L256.5 1621.6L257 1631.7L257.4 1638.6L257.8 1635.7L258.3 1624.8L258.7 1635.2L259.2 1628.9L259.6 1642.6L260.1 1630.4L260.5 1628.6L261 1630.6L261.4 1629.1L261.9 1640.5L262.3 1645L262.7 1643.2L263.2 1629.9L263.6 1632.9L264.1 1630.6L264.5 1639.6L265 1631.2L265.4 1646.5L265.9 1634.2L266.3 1643.9L266.8 1640.2L267.2 1633.5L267.6 1632.3L268.1 1639.3L268.5 1640.9L269 1630L269.4 1632.3L269.9 1643.9L270.3 1637.7L270.8 1641.3L271.2 1633.7L271.7 1637.4L272.1 1637.8L272.5 1640.4L273 1644.9L273.4 1634.1L273.9 1639L274.3 1657.9L274.8 1645L275.2 1640.9L275.7 1648L276.1 1649.6L276.6 1647.9L277 1641.4L277.4 1650.7L277.9 1641.9L278.3 1635.2L278.8 1638.3L279.2 1638.3L279.7 1647L280.1 1637.5L280.6 1646L281 1640.1L281.5 1654.8L281.9 1638L282.3 1651.4L282.8 1647.3L283.2 1640.2L283.7 1648.2L284.1 1651.9L284.6 1649.9L285 1641.1L285.5 1641.2L285.9 1644.8L286.4 1654.6L286.8 1653.2L287.2 1645.7L287.7 1645.3L288.1 1656.5L288.6 1656.7L289 1646.5L289.5 1643.8L289.9 1651.7L290.4 1661.6L290.8 1640.8L291.3 1652.8L291.7 1649.9L292.1 1670.2L292.6 1659.6L293 1655.8L293.5 1652.2L293.9 1661.8L294.4 1667.2L294.8 1668.4L295.3 1658.9L295.7 1653.9L296.2 1654.5L296.6 1670.3L297 1662.6L297.5 1658.1L297.9 1649.8L298.4 1653.5L298.8 1656.1L299.3 1671.8L299.7 1650L300.2 1659.6L300.6 1657.4L301.1 1664.8L301.5 1661.2L301.9 1662.6L302.4 1663.3L302.8 1667.4L303.3 1655L303.7 1653.4L304.2 1665.3L304.6 1667.9L305.1 1668L305.5 1664L306 1650.1L306.4 1663L306.8 1647.1L307.3 1672.7L307.7 1671.4L308.2 1669.1L308.6 1669.9L309.1 1660.3L309.5 1648.7L310 1669.4L310.4 1660.6L310.9 1652.6L311.3 1643.7L311.7 1662.2L312.2 1655.9L312.6 1653.1L313.1 1663.6L313.5 1659.8L314 1667.7L314.4 1672.3L314.9 1670L315.3 1655.4L315.8 1653.9L316.2 1663.3L316.6 1676L317.1 1655.2L317.5 1665.9L318 1653.2L318.4 1665.3L318.9 1676.2L319.3 1668.9L319.8 1672.3L320.2 1653L320.7 1686.5L321.1 1672.2L321.5 1669.9L322 1685.1L322.4 1663.8L322.9 1662.3L323.3 1660.4L323.8 1660.7L324.2 1669L324.7 1660L325.1 1672.4L325.5 1668.4L326 1666.9L326.4 1668.3L326.9 1664.6L327.3 1675.1L327.8 1670.6L328.2 1674.9L328.7 1669.2L329.1 1667.2L329.6 1676.9L330 1657.4L330.4 1653.1L330.9 1665.7L331.3 1670L331.8 1676.7L332.2 1672.8L332.7 1673.4L333.1 1665.4L333.6 1671.9L334 1665.6L334.5 1667.1L334.9 1676.9L335.3 1684.8L335.8 1683.7L336.2 1682.9L336.7 1673.6L337.1 1662.6L337.6 1682.4L338 1668L338.5 1675.9L338.9 1662.8L339.4 1653.7L339.8 1665.1L340.2 1672.1L340.7 1670.8L341.1 1663.4L341.6 1678.8L342 1683.8L342.5 1675L342.9 1661.4L343.4 1684L343.8 1666.7L344.3 1669.2L344.7 1680.2L345.1 1686L345.6 1694.6L346 1690.3L346.5 1677.6L346.9 1672.3L347.4 1686.1L347.8 1685.9L348.3 1688.2L348.7 1656.4L349.2 1694.9L349.6 1696.3L350 1671.1L350.5 1693.2L350.9 1672.2L351.4 1691.2L351.8 1672.5L352.3 1669.2L352.7 1688.3L353.2 1684.1L353.6 1694.4L354.1 1675.3L354.5 1687.9L354.9 1694.8L355.4 1680.6L355.8 1681.6L356.3 1686.2L356.7 1690.5L357.2 1676.1L357.6 1693.3L358.1 1695.8L358.5 1689.5L359 1681.5L359.4 1691.4L359.8 1694.2L360.3 1698.6L360.7 1696.4L361.2 1695.2L361.6 1666.8L362.1 1707.7L362.5 1693.6L363 1688.1L363.4 1698.6L363.9 1702.1L364.3 1683.2L364.7 1674.4L365.2 1677.5L365.6 1689.6L366.1 1694.8L366.5 1682.8L367 1708.4L367.4 1699.6L367.9 1674.3L368.3 1685.9L368.8 1689L369.2 1693L369.6 1695.3L370.1 1700.6L370.5 1684.9L371 1685.8L371.4 1685.8L371.9 1719.1L372.3 1677.5L372.8 1682.3L373.2 1674.5L373.7 1698.6L374.1 1716.9L374.5 1707.3L375 1702.7L375.4 1669.9L375.9 1701.4L376.3 1698.3L376.8 1681.8L377.2 1683L377.7 1682.3L378.1 1698.8L378.6 1672.2L379 1689.1L379.4 1703.6L379.9 1689.3L380.3 1710.4L380.8 1708.6L381.2 1702.2L381.7 1708.2L382.1 1700.3L382.6 1702.3L383 1700.3L383.5 1705.1L383.9 1682.1L384.3 1706.8L384.8 1701.5L385.2 1706.1L385.7 1702.5L386.1 1710.8L386.6 1671.1L387 1699.1L387.5 1686.4L387.9 1700.4L388.4 1711.6L388.8 1702.4L389.2 1704.5L389.7 1711.1L390.1 1695.4L390.6 1677.7L391 1694.6L391.5 1684.7L391.9 1681.7L392.4 1720.2L392.8 1674.7L393.3 1713.1L393.7 1675.6L394.1 1695.1L394.6 1690.5L395 1671.4L395.5 1685.3L395.9 1717.4L396.4 1719.9L396.8 1712.8L397.3 1686.3L397.7 1694.8L398.2 1687.8L398.6 1693.7L399 1684.3L399.5 1711.8L399.9 1721.7L400.4 1707.7L400.8 1689.8L401.3 1712.2L401.7 1728.6L402.2 1706.8L402.6 1691.9L403.1 1695.3L403.5 1704.8L403.9 1707L404.4 1726.9L404.8 1701.5L405.3 1678L405.7 1707.8L406.2 1681.6L406.6 1717.4L407.1 1707.4L407.5 1708.5L408 1703.1L408.4 1725.5L408.8 1688.4L409.3 1707.6L409.7 1730.9L410.2 1696L410.6 1702.5L411.1 1720.5L411.5 1706L412 1694.4L412.4 1695.9L412.9 1700.4L413.3 1713.2L413.7 1701.1L414.2 1688.4L414.6 1677L415.1 1696.6L415.5 1694.3L416 1692.3L416.4 1708L416.9 1727.3L417.3 1712.4L417.8 1707.9L418.2 1703L418.6 1706.5L419.1 1716.6L419.5 1714.9L420 1711.6L420.4 1720.4L420.9 1720.5L421.3 1732.5L421.8 1715.4L422.2 1709.9L422.7 1720.2L423.1 1715.6L423.5 1711.3L424 1727.1L424.4 1721.6L424.9 1725.3L425.3 1707.5L425.8 1728.3L426.2 1713.3L426.7 1740.5L427.1 1690.8L427.6 1706.5L428 1724.4L428.4 1714.4L428.9 1688.3L429.3 1712L429.8 1733L430.2 1713.6L430.7 1719.5L431.1 1706L431.6 1710.4L432 1734L432.5 1709L432.9 1699L433.3 1693L433.8 1707.1L434.2 1686.5L434.7 1692L435.1 1701.1L435.6 1690.6L436 1745.8L436.5 1694.6L436.9 1691.9L437.4 1713.1L437.8 1700.6L438.2 1720.9L438.7 1714.4L439.1 1714.6L439.6 1726.7L440 1715.5L440.5 1737L440.9 1714.7L441.4 1689.5L441.8 1686.9L442.3 1713.4L442.7 1689.1L443.1 1707.6L443.6 1731.1L444 1722.1L444.5 1714.4L444.9 1714L445.4 1704.7L445.8 1723.7L446.3 1719.7L446.7 1699.5L447.2 1712.2L447.6 1708.4L448 1715L448.5 1704.4L448.9 1703.6L449.4 1725.2L449.8 1698.3L450.3 1723.6L450.7 1709.6L451.2 1718.9L451.6 1705.3L452.1 1710.8L452.5 1706.7L452.9 1713L453.4 1716.7L453.8 1712.3L454.3 1715.5L454.7 1727.3L455.2 1737.8L455.6 1708.1L456.1 1697.4L456.5 1729.8L457 1708.8L457.4 1725L457.8 1713.7L458.3 1703.7L458.7 1711.3L459.2 1720.1L459.6 1744.9L460.1 1720L460.5 1717.5L461 1699.4L461.4 1727.5L461.8 1719L462.3 1714.8L462.7 1699.5L463.2 1735.2L463.6 1705.9L464.1 1719.6L464.5 1728.1L465 1738.3L465.4 1732.6L465.9 1706.5L466.3 1726.3L466.7 1732.7L467.2 1724.9L467.6 1699.5L468.1 1704.5L468.5 1707.1L469 1704.8L469.4 1707.9L469.9 1725.5L470.3 1735.8L470.8 1701.4L471.2 1721.6L471.6 1718L472.1 1726.9L472.5 1712.5L473 1700.1L473.4 1726.3L473.9 1718L474.3 1719.4L474.8 1710.6L475.2 1720.7L475.7 1720L476.1 1729.6L476.5 1720.2L477 1731.7L477.4 1709.9L477.9 1723L478.3 1696.3L478.8 1731.4L479.2 1736.8L479.7 1707.6L480.1 1711.9L480.6 1742.3L481 1682.3L481.4 1724.4L481.9 1704.9L482.3 1727.9L482.8 1711.6L483.2 1705.3L483.7 1729.6L484.1 1717L484.6 1709.1L485 1691.2L485.5 1707.4L485.9 1701L486.3 1713.5L486.8 1711.8L487.2 1713.9L487.7 1725.8L488.1 1750.9L488.6 1748.8L489 1717.7L489.5 1715.7L489.9 1722.3L490.4 1732.5L490.8 1731.4L491.2 1743.5L491.7 1705.8L492.1 1750.1L492.6 1699L493 1731.3L493.5 1685L493.9 1717.1L494.4 1729.8L494.8 1723.1L495.3 1732.6L495.7 1701.5L496.1 1725.8L496.6 1721.8L497 1739.4L497.5 1716.6L497.9 1749.4L498.4 1736.6L498.8 1706.5L499.3 1759L499.7 1721.8L500.2 1707.9L500.6 1724.7L501 1703.5L501.5 1706.9L501.9 1719.1L502.4 1752.3L502.8 1734.7L503.3 1732.5L503.7 1711.5L504.2 1729.1L504.6 1732.5L505.1 1748.6L505.5 1731.5L505.9 1724.9L506.4 1767.8L506.8 1729.9L507.3 1723L507.7 1733.5L508.2 1731.8L508.6 1738.7L509.1 1715.3L509.5 1738.7L510 1710.7L510.4 1724.2L510.8 1760.8L511.3 1735L511.7 1725.7L512.2 1716.8L512.6 1728.5L513.1 1732.6L513.5 1717.4L514 1704.9L514.4 1759.9L514.9 1741L515.3 1703.5L515.7 1726.2L516.2 1746.8L516.6 1703.1L517.1 1698.9L517.5 1734.7L518 1718.7L518.4 1730.8L518.9 1725.1L519.3 1715.2L519.8 1735.6L520.2 1732.5L520.6 1736.4L521.1 1759.6L521.5 1724.1L522 1718L522.4 1729.1L522.9 1731.2L523.3 1718.6L523.8 1743.6L524.2 1749.5L524.7 1724.7L525.1 1729.7L525.5 1703.5L526 1755.8L526.4 1733.2L526.9 1752.8L527.3 1697.4L527.8 1739.4L528.2 1719.9L528.7 1769.5L529.1 1748.7L529.6 1720.1L530 1739.6L530.4 1743.1L530.9 1721.6L531.3 1731L531.8 1730.9L532.2 1728.6L532.7 1741.1L533.1 1707.5L533.6 1716.1L534 1735.3L534.5 1739.2L534.9 1764L535.3 1752L535.8 1711.2L536.2 1753.1L536.7 1740.3L537.1 1705.5L537.6 1715.5L538 1727.7L538.5 1726.7L538.9 1738.9L539.4 1730.6L539.8 1732.8L540.2 1711.4L540.7 1720.7L541.1 1745.9L541.6 1709.8L542 1719.3L542.5 1714.6L542.9 1712.2L543.4 1720.1L543.8 1729.7L544.3 1711.1L544.7 1713.5L545.1 1737.1L545.6 1735.7L546 1728.6L546.5 1724.2L546.9 1733.8L547.4 1756.4L547.8 1713.1L548.3 1744.5L548.7 1752.7L549.2 1747.6L549.6 1732.5L550 1737.4L550.5 1772.8L550.9 1760.3L551.4 1761.1L551.8 1747.2L552.3 1732.4L552.7 1745.7L553.2 1701.5L553.6 1719.9L554.1 1710L554.5 1722.3L554.9 1755.8L555.4 1726.3L555.8 1759.4L556.3 1751.4L556.7 1730.6L557.2 1733.6L557.6 1723.6L558.1 1738.5L558.5 1715.7L559 1720.2L559.4 1727.9L559.8 1746.2L560.3 1743.9L560.7 1715.8L561.2 1687.7L561.6 1741.6L562.1 1730.6L562.5 1748.6L563 1775.6L563.4 1723.2L563.9 1731L564.3 1722.1L564.7 1744.7L565.2 1748.2L565.6 1708.6L566.1 1750.1L566.5 1722.3L567 1717.9L567.4 1734.5L567.9 1744.2L568.3 1730.5L568.8 1765L569.2 1739.6L569.6 1741.3L570.1 1759.3L570.5 1740L571 1719.7L571.4 1695.2L571.9 1754L572.3 1727.5L572.8 1727.8L573.2 1740.2L573.7 1744.9L574.1 1726.5L574.5 1722.5L575 1759.9L575.4 1709L575.9 1737.7L576.3 1733.4L576.8 1745.2L577.2 1714L577.7 1758.4L578.1 1743.8L578.6 1733.2L579 1751.6L579.4 1739.9L579.9 1727L580.3 1715.5L580.8 1739L581.2 1744.1L581.7 1727.9L582.1 1734.1L582.6 1754.1L583 1721.1L583.5 1741.1L583.9 1751.8L584.3 1719.4L584.8 1726.3L585.2 1749.9L585.7 1724.5L586.1 1748.5L586.6 1746.2L587 1754L587.5 1721.9L587.9 1739.2L588.4 1726.5L588.8 1759.6L589.2 1744.5L589.7 1766.6L590.1 1748.8L590.6 1744.6L591 1741.2L591.5 1764.8L591.9 1719.5L592.4 1766.8L592.8 1717.4L593.3 1740.5L593.7 1719.8L594.1 1756.2L594.6 1736.3L595 1728.2L595.5 1700L595.9 1730.7L596.4 1706.9L596.8 1731.4L597.3 1712.4L597.7 1736.9L598.1 1734.9L598.6 1719.7L599 1758.1L599.5 1764.4L599.9 1732.6L600.4 1698L600.8 1709.7L601.3 1733.7L601.7 1724.3L602.2 1731.3L602.6 1728.1L603 1709.9L603.5 1755.3L603.9 1756.1L604.4 1769.4L604.8 1750.6L605.3 1716.9L605.7 1736.4L606.2 1758.4L606.6 1746.7L607.1 1743.9L607.5 1717.3L607.9 1726.9L608.4 1728.4L608.8 1713.6L609.3 1725.8L609.7 1715.7L610.2 1749.3L610.6 1752.1L611.1 1741.9L611.5 1699.1L612 1755.7L612.4 1732.2L612.8 1726.2L613.3 1752.7L613.7 1757.8L614.2 1699.2L614.6 1738.6L615.1 1742.7L615.5 1729.7L616 1734.4L616.4 1762.3L616.9 1767.8L617.3 1740.6L617.7 1751.2L618.2 1738.3L618.6 1758.7L619.1 1691.4L619.5 1729.2L620 1701.3L620.4 1745.9L620.9 1738.9L621.3 1745.6L621.8 1735.3L622.2 1728.5L622.6 1745.5L623.1 1755.5L623.5 1749.1L624 1740.5L624.4 1722.2L624.9 1765.4L625.3 1751.8L625.8 1730.8L626.2 1714L626.7 1746.5L627.1 1733.2L627.5 1742.5L628 1743.6L628.4 1736.6L628.9 1749L629.3 1743.8L629.8 1745.1L630.2 1711.5L630.7 1740.1L631.1 1710L631.6 1742.1L632 1737.3L632.4 1755.2L632.9 1736.8L633.3 1715L633.8 1711.4L634.2 1759.9L634.7 1695.9L635.1 1734.7L635.6 1731.2L636 1722.6L636.5 1739.6L636.9 1756L637.3 1739.7L637.8 1747.2L638.2 1705.7L638.7 1739.9L639.1 1781.4L639.6 1716.7L640 1730L640.5 1741.7L640.9 1774.9L641.4 1690.9L641.8 1747.2L642.2 1747.3L642.7 1751.6L643.1 1738.2L643.6 1742.7L644 1735.5L644.5 1732.5L644.9 1741L645.4 1721.1L645.8 1760.2L646.3 1724.1L646.7 1734.5L647.1 1740.7L647.6 1728L648 1736.5L648.5 1737.2L648.9 1749.6L649.4 1756.7L649.8 1768.4L650.3 1764.3L650.7 1753.3L651.2 1726.9L651.6 1745.9L652 1739.3L652.5 1761.3L652.9 1770L653.4 1740.6L653.8 1699.6L654.3 1762.7L654.7 1718.2L655.2 1763.9L655.6 1764.8L656.1 1759.9L656.5 1758.8L656.9 1728.2L657.4 1740L657.8 1742.1L658.3 1753.5L658.7 1727.1L659.2 1710.5L659.6 1738.4L660.1 1750.4L660.5 1762.8L661 1749.5L661.4 1766.4L661.8 1718.9L662.3 1757.2L662.7 1722L663.2 1765.4L663.6 1727L664.1 1732L664.5 1728.7L665 1737L665.4 1761.8L665.9 1692.7L666.3 1768.4L666.7 1722.2L667.2 1746.1L667.6 1762.9L668.1 1728.1L668.5 1716.3L669 1724L669.4 1767.5L669.9 1756.8L670.3 1732.7L670.8 1735.9L671.2 1726.1L671.6 1747.4L672.1 1776.4L672.5 1766.8L673 1739.5L673.4 1763.9L673.9 1770.5L674.3 1733.8L674.8 1719.8L675.2 1757.3L675.7 1748.9L676.1 1747.5L676.5 1728.3L677 1750.1L677.4 1750.2L677.9 1746.3L678.3 1768.1L678.8 1721L679.2 1716.7L679.7 1744.3L680.1 1742.9L680.6 1741.2L681 1744.6L681.4 1759.1L681.9 1732.7L682.3 1731.7L682.8 1726.1L683.2 1763.6L683.7 1741.9L684.1 1769.9L684.6 1711.3L685 1773.9L685.5 1748.2L685.9 1716.6L686.3 1778.1L686.8 1743.5L687.2 1777.1L687.7 1728.7L688.1 1752.8L688.6 1757L689 1763.6L689.5 1736.2L689.9 1743.5L690.4 1732.8L690.8 1730.4L691.2 1756.5L691.7 1740.5L692.1 1721L692.6 1735.6L693 1737.3L693.5 1742.7L693.9 1753L694.4 1744.1L694.8 1745.4L695.3 1697.9L695.7 1749.5L696.1 1762.9L696.6 1737.3L697 1748.6L697.5 1756.2L697.9 1729.1L698.4 1747.8L698.8 1759.6L699.3 1733.6L699.7 1707.6L700.2 1719.6L700.6 1739.6L701 1738.7L701.5 1745.1L701.9 1731L702.4 1748.3L702.8 1737.8L703.3 1747.6L703.7 1740.7L704.2 1782.4L704.6 1745L705.1 1755.4L705.5 1751.1L705.9 1737.9L706.4 1769.1L706.8 1761.7L707.3 1742L707.7 1744.2L708.2 1728L708.6 1738.9L709.1 1775.9L709.5 1737.7L710 1748.4" stroke="#BC7599"/>
</g>
<rect x="116.2" y="1312.6" width="593.9" height="474.7" fill="none" stroke="#000" stroke-width="2.6"/>
<path d="M116.2 1787.3v14M190.4 1787.3v7M264.7 1787.3v14M338.9 1787.3v7M413.1 1787.3v14M487.4 1787.3v7M561.6 1787.3v14M635.9 1787.3v7M710.1 1787.3v14M116.2 1787.3h-14M116.2 1753.1h-7M116.2 1733.1h-7M116.2 1718.9h-7M116.2 1707.8h-7M116.2 1698.8h-7M116.2 1691.2h-7M116.2 1684.6h-7M116.2 1678.8h-7M116.2 1673.6h-14M116.2 1639.4h-7M116.2 1619.4h-7M116.2 1605.2h-7M116.2 1594.2h-7M116.2 1585.2h-7M116.2 1577.6h-7M116.2 1571h-7M116.2 1565.2h-7M116.2 1559.9h-14M116.2 1525.7h-7M116.2 1505.7h-7M116.2 1491.5h-7M116.2 1480.5h-7M116.2 1471.5h-7M116.2 1463.9h-7M116.2 1457.3h-7M116.2 1451.5h-7M116.2 1446.3h-14M116.2 1412.1h-7M116.2 1392h-7M116.2 1377.8h-7M116.2 1366.8h-7M116.2 1357.8h-7M116.2 1350.2h-7M116.2 1343.6h-7M116.2 1337.8h-7M116.2 1332.6h-14" stroke="#000" stroke-width="2.6" fill="none"/>
<text x="116.2" y="1836.3" font-size="32.5" text-anchor="middle" fill="#000">0</text>
<text x="264.7" y="1836.3" font-size="32.5" text-anchor="middle" fill="#000">50</text>
<text x="413.1" y="1836.3" font-size="32.5" text-anchor="middle" fill="#000">100</text>
<text x="561.6" y="1836.3" font-size="32.5" text-anchor="middle" fill="#000">150</text>
<text x="710.1" y="1836.3" font-size="32.5" text-anchor="middle" fill="#000">200</text>
<text x="93.6" y="1799.7" font-size="32.5" text-anchor="end">10<tspan font-size="22.5" dy="-13.6" dx="0.6">0</tspan></text>
<text x="93.6" y="1686" font-size="32.5" text-anchor="end">10<tspan font-size="22.5" dy="-13.6" dx="0.6">1</tspan></text>
<text x="93.6" y="1572.3" font-size="32.5" text-anchor="end">10<tspan font-size="22.5" dy="-13.6" dx="0.6">2</tspan></text>
<text x="93.6" y="1458.7" font-size="32.5" text-anchor="end">10<tspan font-size="22.5" dy="-13.6" dx="0.6">3</tspan></text>
<text x="93.6" y="1345" font-size="32.5" text-anchor="end">10<tspan font-size="22.5" dy="-13.6" dx="0.6">4</tspan></text>
<text x="413.6" y="1873" font-size="33" text-anchor="middle" fill="#000">Decay time (ns)</text>
<text transform="translate(24.3 1549.9) rotate(-90)" font-size="33" text-anchor="middle">PL intensity (arb. units)</text>
<path d="M495.6 1348.9H568.9" stroke="#F2B473" stroke-width="3.6" fill="none"/>
<text x="579" y="1360.1" font-size="32.5" text-anchor="start" fill="#000">Pristine</text>
<path d="M495.6 1389H568.9" stroke="#7585BD" stroke-width="3.6" fill="none"/>
<text x="579" y="1400.2" font-size="32.5" text-anchor="start" fill="#000">CF-sol</text>
<path d="M495.6 1429.8H568.9" stroke="#BC7599" stroke-width="3.6" fill="none"/>
<text x="579" y="1441" font-size="32.5" text-anchor="start" fill="#000">IPA-sol</text>
</g>
<g id="panel-d" font-family='"Liberation Sans", Arial, Helvetica, sans-serif'>
<defs>
<filter id="sem1" x="0" y="0" width="1" height="1" color-interpolation-filters="sRGB">
<feTurbulence type="fractalNoise" baseFrequency="0.075" numOctaves="2" seed="7" result="n1"/>
<feColorMatrix in="n1" type="matrix" values="1 0 0 0 0  1 0 0 0 0  1 0 0 0 0  0 0 0 0 1" result="g0"/>
<feComponentTransfer in="g0" result="g1"><feFuncR type="table" tableValues="0.2 0.25 0.34 0.44 0.49 0.52 0.56 0.64 0.76 0.85 0.9"/><feFuncG type="table" tableValues="0.2 0.25 0.34 0.44 0.49 0.52 0.56 0.64 0.76 0.85 0.9"/><feFuncB type="table" tableValues="0.2 0.25 0.34 0.44 0.49 0.52 0.56 0.64 0.76 0.85 0.9"/></feComponentTransfer>
<feTurbulence type="fractalNoise" baseFrequency="0.75" numOctaves="1" seed="11" result="n2"/>
<feColorMatrix in="n2" type="matrix" values="0 0.3 0 0 -0.15  0 0.3 0 0 -0.15  0 0.3 0 0 -0.15  0 0 0 0 1" result="g2"/>
<feComposite in="g1" in2="g2" operator="arithmetic" k1="0" k2="1" k3="1" k4="0"/>
</filter>
<filter id="sem2" x="0" y="0" width="1" height="1" color-interpolation-filters="sRGB">
<feTurbulence type="fractalNoise" baseFrequency="0.058" numOctaves="2" seed="23" result="n1"/>
<feColorMatrix in="n1" type="matrix" values="7.5 0 0 0 -2.25  7.5 0 0 0 -2.25  7.5 0 0 0 -2.25  0 0 0 0 1" result="m"/>
<feTurbulence type="fractalNoise" baseFrequency="0.07" numOctaves="2" seed="41" result="n3"/>
<feColorMatrix in="n3" type="matrix" values="0 0.5 0 0 0.15  0 0.5 0 0 0.15  0 0.5 0 0 0.15  0 0 0 0 1" result="L"/>
<feComposite in="m" in2="L" operator="arithmetic" k1="1" k2="0" k3="0" k4="0.2" result="c"/>
<feTurbulence type="fractalNoise" baseFrequency="0.75" numOctaves="1" seed="5" result="n2"/>
<feColorMatrix in="n2" type="matrix" values="0 0.3 0 0 -0.15  0 0.3 0 0 -0.15  0 0.3 0 0 -0.15  0 0 0 0 1" result="g2"/>
<feComposite in="c" in2="g2" operator="arithmetic" k1="0" k2="1" k3="1" k4="0"/>
</filter>
</defs>
<text x="784" y="726.3" font-size="53" text-anchor="start" fill="#000" font-weight="bold">d</text>
<rect x="853" y="725" width="467.4" height="472.3" fill="#858585" filter="url(#sem1)"/>
<rect x="1333" y="724" width="473" height="475" fill="#909090" filter="url(#sem2)"/>
<rect x="1147.2" y="1153" width="154.6" height="15.6" fill="#fff"/>
<rect x="1632.1" y="1153.6" width="154.6" height="16" fill="#fff"/>
<text x="882" y="779.7" font-size="40.5" text-anchor="start" fill="#fff" font-weight="bold">CF-sol</text>
<text x="1362.5" y="784.8" font-size="40.5" text-anchor="start" fill="#fff" font-weight="bold">IPA-sol</text>
</g>
<g id="panel-e" font-family='"Liberation Sans", Arial, Helvetica, sans-serif'>
<defs><linearGradient id="ebg" x1="0" x2="1" y1="0" y2="0"><stop offset="0" stop-color="#DEE7FA"/><stop offset="0.18" stop-color="#DFE9FA"/><stop offset="0.5" stop-color="#E0ECF4"/><stop offset="0.8" stop-color="#E3F2E7"/><stop offset="1" stop-color="#E4F3E4"/></linearGradient><clipPath id="clipe"><rect x="853.5" y="1311.7" width="955" height="479.8"/></clipPath></defs>
<text x="761.5" y="1319.3" font-size="53" text-anchor="start" fill="#000" font-weight="bold">e</text>
<rect x="853.5" y="1311.7" width="955" height="475.8" fill="url(#ebg)"/>
<rect x="853.5" y="1311.7" width="955" height="475.8" fill="none" stroke="#000" stroke-width="2.6"/>
<g clip-path="url(#clipe)" fill="none" stroke-width="3.4" stroke-linejoin="round" stroke-linecap="butt">
<path d="M852.8 1404.1L854.8 1404.9L856.8 1405.8L858.8 1406.7L860.8 1407.5L862.8 1408.4L864.8 1409.3L866.8 1410.1L868.8 1411L870.8 1411.9L872.8 1412.7L874.8 1413.6L876.8 1414.5L878.8 1415.4L880.8 1416.3L882.8 1417.2L884.8 1418L886.8 1418.9L888.8 1419.7L890.8 1420.4L892.8 1421.2L894.8 1421.8L896.8 1422.5L898.8 1423.1L900.8 1423.9L902.8 1424.6L904.8 1425.5L906.8 1426.4L908.8 1427.5L910.8 1428.6L912.8 1429.8L914.8 1431L916.8 1432.3L918.8 1433.6L920.8 1435L922.8 1436.3L924.8 1437.6L926.8 1439L928.8 1440.4L930.8 1441.8L932.8 1443.3L934.8 1444.8L936.8 1446.3L938.8 1447.9L940.8 1449.4L942.8 1451.1L944.8 1452.8L946.8 1454.6L948.8 1456.5L950.8 1458.3L952.8 1460.1L954.8 1461.9L956.8 1463.6L958.8 1465.1L960.8 1466.6L962.8 1468.2L964.8 1469.8L966.8 1471.3L968.8 1472.7L970.8 1473.8L972.8 1474.5L974.8 1474.8L976.8 1474.7L978.8 1474.4L980.8 1474L982.8 1473.4L984.8 1472.8L986.8 1472.2L988.8 1471.5L990.8 1470.9L992.8 1470.3L994.8 1469.6L996.8 1468.9L998.8 1468.1L1000.8 1467.3L1002.8 1466.4L1004.8 1465.5L1006.8 1464.6L1008.8 1463.6L1010.8 1462.5L1012.8 1461.3L1014.8 1459.9L1016.8 1458.6L1018.8 1457.1L1020.8 1455.6L1022.8 1454.1L1024.8 1452.4L1026.8 1450.2L1028.8 1447.8L1030.8 1445.5L1032.8 1443.7L1034.8 1442.6L1036.8 1442.5L1038.8 1442.7L1040.8 1443.1L1042.8 1443.7L1044.8 1444.5L1046.8 1445.4L1048.8 1446.5L1050.8 1447.7L1052.8 1448.9L1054.8 1450.4L1056.8 1452.9L1058.8 1456.4L1060.8 1460.5L1062.8 1465.1L1064.8 1469.7L1066.8 1474.1L1068.8 1478.8L1070.8 1483.9L1072.8 1489.1L1074.8 1494.3L1076.8 1499.4L1078.8 1504.3L1080.8 1509L1082.8 1513.9L1084.8 1518.7L1086.8 1523.4L1088.8 1527.9L1090.8 1531.9L1092.8 1535.5L1094.8 1538.7L1096.8 1541.8L1098.8 1544.9L1100.8 1547.8L1102.8 1550.6L1104.8 1553.1L1106.8 1555.2L1108.8 1556.8L1110.8 1558L1112.8 1558.5L1114.8 1559L1116.8 1559.4L1118.8 1559.8L1120.8 1560.1L1122.8 1560.4L1124.8 1560.7L1126.8 1560.9L1128.8 1561.1L1130.8 1561.2L1132.8 1561.3L1134.8 1561.4L1136.8 1561.4L1138.8 1561.3L1140.8 1561.2L1142.8 1561L1144.8 1560.7L1146.8 1560.4L1148.8 1560.1L1150.8 1559.8L1152.8 1559.4L1154.8 1559.1L1156.8 1558.9L1158.8 1558.6L1160.8 1558.5L1162.8 1558.4L1164.8 1558.4L1166.8 1558.6L1168.8 1559.1L1170.8 1559.7L1172.8 1560.5L1174.8 1561.3L1176.8 1562.2L1178.8 1563.1L1180.8 1564.1L1182.8 1565.2L1184.8 1566.4L1186.8 1567.9L1188.8 1569.4L1190.8 1571L1192.8 1572.7L1194.8 1574.4L1196.8 1576.1L1198.8 1577.9L1200.8 1579.9L1202.8 1582L1204.8 1584.3L1206.8 1586.6L1208.8 1589L1210.8 1591.4L1212.8 1593.9L1214.8 1596.3L1216.8 1598.6L1218.8 1600.9L1220.8 1603.1L1222.8 1605.1L1224.8 1607.1L1226.8 1609L1228.8 1610.8L1230.8 1612.7L1232.8 1614.5L1234.8 1616.3L1236.8 1618.1L1238.8 1620L1240.8 1621.9L1242.8 1623.8L1244.8 1625.7L1246.8 1627.7L1248.8 1629.7L1250.8 1631.6L1252.8 1633.6L1254.8 1635.5L1256.8 1637.4L1258.8 1639.2L1260.8 1641.1L1262.8 1642.8L1264.8 1644.6L1266.8 1646.3L1268.8 1648.1L1270.8 1649.8L1272.8 1651.5L1274.8 1653.2L1276.8 1654.8L1278.8 1656.5L1280.8 1658.1L1282.8 1659.6L1284.8 1661.2L1286.8 1662.7L1288.8 1664.3L1290.8 1665.9L1292.8 1667.5L1294.8 1669.2L1296.8 1671L1298.8 1672.8L1300.8 1674.6L1302.8 1676.5L1304.8 1678.4L1306.8 1680.3L1308.8 1682.2L1310.8 1684.1L1312.8 1686L1314.8 1687.9L1316.8 1689.8L1318.8 1691.7L1320.8 1693.6L1322.8 1695.5L1324.8 1697.3L1326.8 1699.2L1328.8 1701L1330.8 1702.8L1332.8 1704.6L1334.8 1706.4L1336.8 1708.1L1338.8 1709.9L1340.8 1711.6L1342.8 1713.3L1344.8 1714.9L1346.8 1716.5L1348.8 1718L1350.8 1719.4L1352.8 1720.8L1354.8 1722.2L1356.8 1723.5L1358.8 1724.8L1360.8 1726.1L1362.8 1727.3L1364.8 1728.6L1366.8 1729.7L1368.8 1730.9L1370.8 1732.1L1372.8 1733.2L1374.8 1734.3L1376.8 1735.4L1378.8 1736.5L1380.8 1737.6L1382.8 1738.7L1384.8 1739.8L1386.8 1740.8L1388.8 1741.8L1390.8 1742.8L1392.8 1743.8L1394.8 1744.6L1396.8 1745.5L1398.8 1746.3L1400.8 1747L1402.8 1747.7L1404.8 1748.4L1406.8 1749L1408.8 1749.7L1410.8 1750.3L1412.8 1750.8L1414.8 1751.4L1416.8 1751.9L1418.8 1752.5L1420.8 1753L1422.8 1753.5L1424.8 1753.9L1426.8 1754.4L1428.8 1754.8L1430.8 1755.2L1432.8 1755.6L1434.8 1756L1436.8 1756.4L1438.8 1756.8L1440.8 1757.2L1442.8 1757.5L1444.8 1757.9L1446.8 1758.3L1448.8 1758.7L1450.8 1759L1452.8 1759.4L1454.8 1759.7L1456.8 1760.1L1458.8 1760.4L1460.8 1760.7L1462.8 1761.1L1464.8 1761.4L1466.8 1761.8L1468.8 1762.1L1470.8 1762.5L1472.8 1762.9L1474.8 1763.2L1476.8 1763.6L1478.8 1764.1L1480.8 1764.5L1482.8 1764.9L1484.8 1765.3L1486.8 1765.7L1488.8 1766.2L1490.8 1766.6L1492.8 1767L1494.8 1767.4L1496.8 1767.8L1498.8 1768.2L1500.8 1768.5L1502.8 1768.8L1504.8 1769.2L1506.8 1769.5L1508.8 1769.8L1510.8 1770.1L1512.8 1770.4L1514.8 1770.7L1516.8 1771L1518.8 1771.3L1520.8 1771.6L1522.8 1771.9L1524.8 1772.1L1526.8 1772.4L1528.8 1772.6L1530.8 1772.8L1532.8 1773L1534.8 1773.2L1536.8 1773.4L1538.8 1773.6L1540.8 1773.8L1542.8 1773.9L1544.8 1774.1L1546.8 1774.3L1548.8 1774.4L1550.8 1774.5L1552.8 1774.7L1554.8 1774.8L1556.8 1775L1558.8 1775.1L1560.8 1775.3L1562.8 1775.4L1564.8 1775.6L1566.8 1775.8L1568.8 1775.9L1570.8 1776.1L1572.8 1776.3L1574.8 1776.4L1576.8 1776.6L1578.8 1776.8L1580.8 1776.9L1582.8 1777.1L1584.8 1777.3L1586.8 1777.4L1588.8 1777.6L1590.8 1777.7L1592.8 1777.9L1594.8 1778L1596.8 1778.1L1598.8 1778.3L1600.8 1778.4L1602.8 1778.5L1604.8 1778.6L1606.8 1778.7L1608.8 1778.9L1610.8 1779L1612.8 1779.1L1614.8 1779.2L1616.8 1779.3L1618.8 1779.4L1620.8 1779.5L1622.8 1779.7L1624.8 1779.8L1626.8 1779.9L1628.8 1780L1630.8 1780.2L1632.8 1780.3L1634.8 1780.4L1636.8 1780.5L1638.8 1780.7L1640.8 1780.8L1642.8 1780.9L1644.8 1781L1646.8 1781.2L1648.8 1781.3L1650.8 1781.4L1652.8 1781.5L1654.8 1781.6L1656.8 1781.7L1658.8 1781.8L1660.8 1781.9L1662.8 1782L1664.8 1782L1666.8 1782.1L1668.8 1782.2L1670.8 1782.3L1672.8 1782.4L1674.8 1782.5L1676.8 1782.5L1678.8 1782.6L1680.8 1782.7L1682.8 1782.7L1684.8 1782.8L1686.8 1782.8L1688.8 1782.9L1690.8 1782.9L1692.8 1783L1694.8 1783L1696.8 1783.1L1698.8 1783.1L1700.8 1783.1L1702.8 1783.2L1704.8 1783.2L1706.8 1783.3L1708.8 1783.3L1710.8 1783.3L1712.8 1783.4L1714.8 1783.4L1716.8 1783.4L1718.8 1783.5L1720.8 1783.5L1722.8 1783.5L1724.8 1783.6L1726.8 1783.6L1728.8 1783.6L1730.8 1783.7L1732.8 1783.7L1734.8 1783.7L1736.8 1783.8L1738.8 1783.8L1740.8 1783.8L1742.8 1783.8L1744.8 1783.9L1746.8 1783.9L1748.8 1783.9L1750.8 1784L1752.8 1784L1754.8 1784" stroke="#12BDBA"/>
<path d="M852.8 1431.5L854.8 1432.1L856.8 1432.8L858.8 1433.4L860.8 1434.2L862.8 1434.9L864.8 1435.7L866.8 1436.4L868.8 1437.2L870.8 1438.1L872.8 1438.9L874.8 1439.8L876.8 1440.8L878.8 1441.7L880.8 1442.7L882.8 1443.7L884.8 1444.8L886.8 1445.9L888.8 1447L890.8 1448.2L892.8 1449.5L894.8 1450.8L896.8 1452.2L898.8 1453.6L900.8 1455.1L902.8 1456.5L904.8 1457.8L906.8 1459.2L908.8 1460.5L910.8 1461.8L912.8 1463.2L914.8 1464.5L916.8 1465.8L918.8 1467.2L920.8 1468.5L922.8 1469.8L924.8 1471.2L926.8 1472.7L928.8 1474.1L930.8 1475.6L932.8 1477L934.8 1478.3L936.8 1479.5L938.8 1480.6L940.8 1481.7L942.8 1482.8L944.8 1483.8L946.8 1484.8L948.8 1485.5L950.8 1486.1L952.8 1486.4L954.8 1486.3L956.8 1486.1L958.8 1485.7L960.8 1485.2L962.8 1484.5L964.8 1483.8L966.8 1482.9L968.8 1482.1L970.8 1480.9L972.8 1479.4L974.8 1477.6L976.8 1475.5L978.8 1473.2L980.8 1470.7L982.8 1468.3L984.8 1465.7L986.8 1462.8L988.8 1459.5L990.8 1455.9L992.8 1452.4L994.8 1448.9L996.8 1445.7L998.8 1442.9L1000.8 1440.5L1002.8 1438L1004.8 1435.4L1006.8 1433L1008.8 1430.7L1010.8 1428.7L1012.8 1427.1L1014.8 1426L1016.8 1425.4L1018.8 1425.5L1020.8 1426.1L1022.8 1427.1L1024.8 1428.5L1026.8 1430.2L1028.8 1432.1L1030.8 1434.2L1032.8 1436.5L1034.8 1439.6L1036.8 1444L1038.8 1449.3L1040.8 1455.1L1042.8 1461L1044.8 1466.6L1046.8 1471.9L1048.8 1477.6L1050.8 1483.3L1052.8 1488.9L1054.8 1494.4L1056.8 1499.6L1058.8 1504.5L1060.8 1509.4L1062.8 1514.2L1064.8 1518.8L1066.8 1523.2L1068.8 1527.4L1070.8 1531.2L1072.8 1534.7L1074.8 1538L1076.8 1541.2L1078.8 1544.4L1080.8 1547.3L1082.8 1550.1L1084.8 1552.6L1086.8 1554.9L1088.8 1556.9L1090.8 1558.5L1092.8 1559.9L1094.8 1561.2L1096.8 1562.5L1098.8 1563.7L1100.8 1564.8L1102.8 1565.8L1104.8 1566.7L1106.8 1567.5L1108.8 1568.1L1110.8 1568.5L1112.8 1568.8L1114.8 1569L1116.8 1569.2L1118.8 1569.3L1120.8 1569.5L1122.8 1569.6L1124.8 1569.6L1126.8 1569.7L1128.8 1569.8L1130.8 1570L1132.8 1570.1L1134.8 1570.4L1136.8 1570.6L1138.8 1571.2L1140.8 1572L1142.8 1573.1L1144.8 1574.5L1146.8 1576L1148.8 1577.6L1150.8 1579.4L1152.8 1581.1L1154.8 1582.8L1156.8 1584.7L1158.8 1586.8L1160.8 1589L1162.8 1591.4L1164.8 1593.9L1166.8 1596.5L1168.8 1599L1170.8 1601.5L1172.8 1603.9L1174.8 1606.2L1176.8 1608.5L1178.8 1610.8L1180.8 1613.1L1182.8 1615.4L1184.8 1617.6L1186.8 1619.9L1188.8 1622.2L1190.8 1624.4L1192.8 1626.6L1194.8 1628.8L1196.8 1630.9L1198.8 1633L1200.8 1635.1L1202.8 1637.1L1204.8 1639.2L1206.8 1641.2L1208.8 1643.1L1210.8 1645.1L1212.8 1647.1L1214.8 1649L1216.8 1651L1218.8 1653L1220.8 1655L1222.8 1657L1224.8 1659L1226.8 1661L1228.8 1663L1230.8 1665L1232.8 1667L1234.8 1669L1236.8 1671L1238.8 1673L1240.8 1675L1242.8 1677L1244.8 1679L1246.8 1681L1248.8 1683L1250.8 1685.1L1252.8 1687.1L1254.8 1689.2L1256.8 1691.3L1258.8 1693.4L1260.8 1695.5L1262.8 1697.5L1264.8 1699.4L1266.8 1701.3L1268.8 1703.2L1270.8 1704.9L1272.8 1706.6L1274.8 1708.2L1276.8 1709.8L1278.8 1711.4L1280.8 1712.9L1282.8 1714.4L1284.8 1715.9L1286.8 1717.3L1288.8 1718.8L1290.8 1720.2L1292.8 1721.5L1294.8 1722.9L1296.8 1724.3L1298.8 1725.6L1300.8 1727L1302.8 1728.3L1304.8 1729.6L1306.8 1730.9L1308.8 1732.2L1310.8 1733.5L1312.8 1734.7L1314.8 1735.8L1316.8 1736.9L1318.8 1738L1320.8 1739L1322.8 1740L1324.8 1740.9L1326.8 1741.8L1328.8 1742.7L1330.8 1743.6L1332.8 1744.4L1334.8 1745.2L1336.8 1746L1338.8 1746.8L1340.8 1747.5L1342.8 1748.3L1344.8 1749L1346.8 1749.8L1348.8 1750.5L1350.8 1751.2L1352.8 1751.9L1354.8 1752.6L1356.8 1753.2L1358.8 1753.9L1360.8 1754.5L1362.8 1755.1L1364.8 1755.7L1366.8 1756.2L1368.8 1756.7L1370.8 1757.2L1372.8 1757.7L1374.8 1758.1L1376.8 1758.6L1378.8 1759L1380.8 1759.4L1382.8 1759.8L1384.8 1760.2L1386.8 1760.6L1388.8 1761L1390.8 1761.3L1392.8 1761.7L1394.8 1762L1396.8 1762.4L1398.8 1762.7L1400.8 1763L1402.8 1763.3L1404.8 1763.6L1406.8 1763.9L1408.8 1764.2L1410.8 1764.5L1412.8 1764.7L1414.8 1765L1416.8 1765.2L1418.8 1765.5L1420.8 1765.8L1422.8 1766L1424.8 1766.3L1426.8 1766.6L1428.8 1766.9L1430.8 1767.2L1432.8 1767.5L1434.8 1767.8L1436.8 1768.2L1438.8 1768.5L1440.8 1768.9L1442.8 1769.2L1444.8 1769.6L1446.8 1769.9L1448.8 1770.2L1450.8 1770.6L1452.8 1770.9L1454.8 1771.2L1456.8 1771.5L1458.8 1771.7L1460.8 1772L1462.8 1772.2L1464.8 1772.4L1466.8 1772.6L1468.8 1772.8L1470.8 1773L1472.8 1773.2L1474.8 1773.4L1476.8 1773.6L1478.8 1773.8L1480.8 1774L1482.8 1774.2L1484.8 1774.4L1486.8 1774.5L1488.8 1774.7L1490.8 1774.9L1492.8 1775.1L1494.8 1775.4L1496.8 1775.6L1498.8 1775.8L1500.8 1776L1502.8 1776.2L1504.8 1776.4L1506.8 1776.6L1508.8 1776.9L1510.8 1777.1L1512.8 1777.3L1514.8 1777.4L1516.8 1777.6L1518.8 1777.8L1520.8 1777.9L1522.8 1778.1L1524.8 1778.2L1526.8 1778.4L1528.8 1778.5L1530.8 1778.6L1532.8 1778.7L1534.8 1778.9L1536.8 1779L1538.8 1779.1L1540.8 1779.2L1542.8 1779.3L1544.8 1779.4L1546.8 1779.5L1548.8 1779.6L1550.8 1779.8L1552.8 1779.9L1554.8 1780L1556.8 1780L1558.8 1780.1L1560.8 1780.2L1562.8 1780.3L1564.8 1780.4L1566.8 1780.5L1568.8 1780.6L1570.8 1780.7L1572.8 1780.8L1574.8 1780.9L1576.8 1781L1578.8 1781.1L1580.8 1781.2L1582.8 1781.3L1584.8 1781.4L1586.8 1781.4L1588.8 1781.5L1590.8 1781.6L1592.8 1781.7L1594.8 1781.8L1596.8 1781.9L1598.8 1781.9L1600.8 1782L1602.8 1782.1L1604.8 1782.2L1606.8 1782.2L1608.8 1782.3L1610.8 1782.4L1612.8 1782.5L1614.8 1782.5L1616.8 1782.6L1618.8 1782.6L1620.8 1782.7L1622.8 1782.8L1624.8 1782.8L1626.8 1782.9L1628.8 1782.9L1630.8 1783L1632.8 1783L1634.8 1783.1L1636.8 1783.1L1638.8 1783.2L1640.8 1783.2L1642.8 1783.3L1644.8 1783.3L1646.8 1783.4L1648.8 1783.4L1650.8 1783.4L1652.8 1783.5L1654.8 1783.5L1656.8 1783.6L1658.8 1783.6L1660.8 1783.6L1662.8 1783.7L1664.8 1783.7L1666.8 1783.7L1668.8 1783.8L1670.8 1783.8L1672.8 1783.8L1674.8 1783.9L1676.8 1783.9L1678.8 1783.9L1680.8 1784L1682.8 1784L1684.8 1784L1686.8 1784L1688.8 1784.1L1690.8 1784.1L1692.8 1784.1L1694.8 1784.1L1696.8 1784.2L1698.8 1784.2L1700.8 1784.2L1702.8 1784.2L1704.8 1784.3L1706.8 1784.3L1708.8 1784.3L1710.8 1784.3L1712.8 1784.3L1714.8 1784.4L1716.8 1784.4L1718.8 1784.4L1720.8 1784.4L1722.8 1784.4L1724.8 1784.5L1726.8 1784.5L1728.8 1784.5L1730.8 1784.5L1732.8 1784.5L1734.8 1784.5L1736.8 1784.5L1738.8 1784.6L1740.8 1784.6L1742.8 1784.6L1744.8 1784.6L1746.8 1784.6L1748.8 1784.6L1750.8 1784.6L1752.8 1784.6L1754.8 1784.6" stroke="#52BFFB"/>
<path d="M852.8 1460.8L854.8 1461.8L856.8 1462.9L858.8 1464L860.8 1465.2L862.8 1466.5L864.8 1467.7L866.8 1469.1L868.8 1470.5L870.8 1472.2L872.8 1474.1L874.8 1476.2L876.8 1478.2L878.8 1479.9L880.8 1481.2L882.8 1482L884.8 1482.3L886.8 1482.6L888.8 1482.8L890.8 1483L892.8 1483.1L894.8 1483.2L896.8 1483.3L898.8 1483.3L900.8 1483.2L902.8 1482.5L904.8 1481.3L906.8 1479.6L908.8 1477.7L910.8 1475.8L912.8 1473.8L914.8 1472.1L916.8 1470.3L918.8 1468.5L920.8 1466.6L922.8 1464.6L924.8 1462.5L926.8 1460.3L928.8 1458L930.8 1455.4L932.8 1452.4L934.8 1449L936.8 1445.5L938.8 1442L940.8 1438.6L942.8 1435.5L944.8 1432.8L946.8 1430.7L948.8 1429.1L950.8 1427.6L952.8 1426.1L954.8 1424.6L956.8 1423.3L958.8 1422.2L960.8 1421.3L962.8 1420.5L964.8 1420.1L966.8 1419.9L968.8 1420.2L970.8 1421.1L972.8 1422.4L974.8 1424L976.8 1426L978.8 1428L980.8 1430.2L982.8 1432.7L984.8 1435.7L986.8 1439.4L988.8 1443.4L990.8 1447.9L992.8 1452.6L994.8 1457.5L996.8 1462.5L998.8 1468.6L1000.8 1475.5L1002.8 1482.7L1004.8 1489.8L1006.8 1496.2L1008.8 1501.6L1010.8 1506.5L1012.8 1511.2L1014.8 1515.7L1016.8 1519.8L1018.8 1523.6L1020.8 1527L1022.8 1529.9L1024.8 1532.4L1026.8 1534.6L1028.8 1536.7L1030.8 1538.6L1032.8 1540.4L1034.8 1542.1L1036.8 1543.6L1038.8 1545.1L1040.8 1546.5L1042.8 1547.8L1044.8 1549.1L1046.8 1550.3L1048.8 1551.5L1050.8 1552.5L1052.8 1553.4L1054.8 1554.3L1056.8 1555.2L1058.8 1556L1060.8 1556.9L1062.8 1557.8L1064.8 1558.8L1066.8 1559.9L1068.8 1561.1L1070.8 1562.4L1072.8 1563.7L1074.8 1565.1L1076.8 1566.6L1078.8 1568.2L1080.8 1569.9L1082.8 1571.6L1084.8 1573.4L1086.8 1575.3L1088.8 1577.4L1090.8 1579.5L1092.8 1581.7L1094.8 1584.1L1096.8 1587L1098.8 1590.2L1100.8 1593.8L1102.8 1597.5L1104.8 1601.2L1106.8 1604.9L1108.8 1608.3L1110.8 1611.5L1112.8 1614.3L1114.8 1616.9L1116.8 1619.5L1118.8 1621.9L1120.8 1624.3L1122.8 1626.5L1124.8 1628.8L1126.8 1630.9L1128.8 1633L1130.8 1635.1L1132.8 1637.1L1134.8 1639.1L1136.8 1641.1L1138.8 1643L1140.8 1644.8L1142.8 1646.6L1144.8 1648.3L1146.8 1650L1148.8 1651.7L1150.8 1653.4L1152.8 1655L1154.8 1656.7L1156.8 1658.4L1158.8 1660.2L1160.8 1662L1162.8 1663.9L1164.8 1665.9L1166.8 1667.8L1168.8 1669.8L1170.8 1671.8L1172.8 1673.8L1174.8 1675.9L1176.8 1677.9L1178.8 1680L1180.8 1682L1182.8 1684L1184.8 1686L1186.8 1688.1L1188.8 1690.1L1190.8 1692.2L1192.8 1694.3L1194.8 1696.4L1196.8 1698.5L1198.8 1700.5L1200.8 1702.6L1202.8 1704.5L1204.8 1706.5L1206.8 1708.4L1208.8 1710.1L1210.8 1711.9L1212.8 1713.5L1214.8 1715.2L1216.8 1716.8L1218.8 1718.4L1220.8 1719.9L1222.8 1721.4L1224.8 1722.9L1226.8 1724.3L1228.8 1725.7L1230.8 1727.1L1232.8 1728.4L1234.8 1729.6L1236.8 1730.9L1238.8 1732.1L1240.8 1733.4L1242.8 1734.6L1244.8 1735.7L1246.8 1736.9L1248.8 1738L1250.8 1739L1252.8 1740L1254.8 1741L1256.8 1741.9L1258.8 1742.7L1260.8 1743.5L1262.8 1744.3L1264.8 1745L1266.8 1745.7L1268.8 1746.4L1270.8 1747L1272.8 1747.6L1274.8 1748.2L1276.8 1748.7L1278.8 1749.2L1280.8 1749.6L1282.8 1750.1L1284.8 1750.5L1286.8 1750.9L1288.8 1751.3L1290.8 1751.7L1292.8 1752L1294.8 1752.4L1296.8 1752.7L1298.8 1753.1L1300.8 1753.5L1302.8 1753.8L1304.8 1754.2L1306.8 1754.6L1308.8 1754.9L1310.8 1755.2L1312.8 1755.6L1314.8 1755.9L1316.8 1756.3L1318.8 1756.6L1320.8 1757L1322.8 1757.3L1324.8 1757.7L1326.8 1758.1L1328.8 1758.5L1330.8 1758.9L1332.8 1759.3L1334.8 1759.8L1336.8 1760.2L1338.8 1760.6L1340.8 1761.1L1342.8 1761.5L1344.8 1761.9L1346.8 1762.2L1348.8 1762.5L1350.8 1762.8L1352.8 1763.1L1354.8 1763.3L1356.8 1763.5L1358.8 1763.7L1360.8 1763.9L1362.8 1764.1L1364.8 1764.3L1366.8 1764.5L1368.8 1764.7L1370.8 1764.8L1372.8 1765L1374.8 1765.2L1376.8 1765.4L1378.8 1765.6L1380.8 1765.8L1382.8 1766L1384.8 1766.2L1386.8 1766.4L1388.8 1766.6L1390.8 1766.8L1392.8 1767L1394.8 1767.2L1396.8 1767.4L1398.8 1767.6L1400.8 1767.8L1402.8 1768L1404.8 1768.2L1406.8 1768.4L1408.8 1768.6L1410.8 1768.8L1412.8 1769L1414.8 1769.2L1416.8 1769.4L1418.8 1769.6L1420.8 1769.8L1422.8 1770L1424.8 1770.2L1426.8 1770.4L1428.8 1770.6L1430.8 1770.8L1432.8 1771L1434.8 1771.2L1436.8 1771.4L1438.8 1771.6L1440.8 1771.8L1442.8 1772L1444.8 1772.1L1446.8 1772.3L1448.8 1772.5L1450.8 1772.6L1452.8 1772.8L1454.8 1772.9L1456.8 1773.1L1458.8 1773.2L1460.8 1773.4L1462.8 1773.6L1464.8 1773.7L1466.8 1773.9L1468.8 1774L1470.8 1774.2L1472.8 1774.3L1474.8 1774.5L1476.8 1774.7L1478.8 1774.8L1480.8 1775L1482.8 1775.1L1484.8 1775.3L1486.8 1775.5L1488.8 1775.6L1490.8 1775.8L1492.8 1775.9L1494.8 1776.1L1496.8 1776.3L1498.8 1776.4L1500.8 1776.6L1502.8 1776.7L1504.8 1776.9L1506.8 1777.1L1508.8 1777.2L1510.8 1777.4L1512.8 1777.6L1514.8 1777.8L1516.8 1777.9L1518.8 1778.1L1520.8 1778.3L1522.8 1778.5L1524.8 1778.6L1526.8 1778.8L1528.8 1778.9L1530.8 1779L1532.8 1779.1L1534.8 1779.3L1536.8 1779.4L1538.8 1779.5L1540.8 1779.6L1542.8 1779.6L1544.8 1779.7L1546.8 1779.8L1548.8 1779.9L1550.8 1780L1552.8 1780.1L1554.8 1780.2L1556.8 1780.2L1558.8 1780.3L1560.8 1780.4L1562.8 1780.5L1564.8 1780.5L1566.8 1780.6L1568.8 1780.7L1570.8 1780.7L1572.8 1780.8L1574.8 1780.9L1576.8 1781L1578.8 1781L1580.8 1781.1L1582.8 1781.2L1584.8 1781.2L1586.8 1781.3L1588.8 1781.4L1590.8 1781.5L1592.8 1781.5L1594.8 1781.6L1596.8 1781.7L1598.8 1781.8L1600.8 1781.9L1602.8 1782L1604.8 1782.1L1606.8 1782.1L1608.8 1782.2L1610.8 1782.3L1612.8 1782.4L1614.8 1782.5L1616.8 1782.6L1618.8 1782.7L1620.8 1782.8L1622.8 1782.9L1624.8 1783L1626.8 1783.1L1628.8 1783.2L1630.8 1783.2L1632.8 1783.3L1634.8 1783.4L1636.8 1783.5L1638.8 1783.6L1640.8 1783.6L1642.8 1783.7L1644.8 1783.8L1646.8 1783.8L1648.8 1783.9L1650.8 1783.9L1652.8 1784L1654.8 1784L1656.8 1784.1L1658.8 1784.1L1660.8 1784.1L1662.8 1784.2L1664.8 1784.2L1666.8 1784.3L1668.8 1784.3L1670.8 1784.3L1672.8 1784.4L1674.8 1784.4L1676.8 1784.4L1678.8 1784.5L1680.8 1784.5L1682.8 1784.5L1684.8 1784.6L1686.8 1784.6L1688.8 1784.6L1690.8 1784.7L1692.8 1784.7L1694.8 1784.7L1696.8 1784.8L1698.8 1784.8L1700.8 1784.8L1702.8 1784.8L1704.8 1784.9L1706.8 1784.9L1708.8 1784.9L1710.8 1784.9L1712.8 1785L1714.8 1785L1716.8 1785L1718.8 1785L1720.8 1785.1L1722.8 1785.1L1724.8 1785.1L1726.8 1785.1L1728.8 1785.1L1730.8 1785.1L1732.8 1785.2L1734.8 1785.2L1736.8 1785.2L1738.8 1785.2L1740.8 1785.2L1742.8 1785.2L1744.8 1785.2L1746.8 1785.2L1748.8 1785.2L1750.8 1785.2L1752.8 1785.2L1754.8 1785.2" stroke="#5A5AF8"/>
<path d="M982.7 1786L984.7 1786L986.7 1786L988.7 1786L990.7 1786L992.7 1786L994.7 1786L996.7 1786L998.7 1786L1000.7 1786L1002.7 1786L1004.7 1786L1006.7 1786L1008.7 1786L1010.7 1786L1012.7 1786L1014.7 1786L1016.7 1786L1018.7 1786L1020.7 1786L1022.7 1786L1024.7 1786L1026.7 1786L1028.7 1786L1030.7 1786L1032.7 1786L1034.7 1786L1036.7 1786L1038.7 1786L1040.7 1786L1042.7 1785.9L1044.7 1785.9L1046.7 1785.9L1048.7 1785.9L1050.7 1785.9L1052.7 1785.9L1054.7 1785.9L1056.7 1785.9L1058.7 1785.9L1060.7 1785.9L1062.7 1785.9L1064.7 1785.9L1066.7 1785.9L1068.7 1785.9L1070.7 1785.9L1072.7 1785.9L1074.7 1785.9L1076.7 1785.9L1078.7 1785.9L1080.7 1785.9L1082.7 1785.9L1084.7 1785.9L1086.7 1785.9L1088.7 1785.9L1090.7 1785.9L1092.7 1785.9L1094.7 1785.9L1096.7 1785.9L1098.7 1785.9L1100.7 1785.8L1102.7 1785.8L1104.7 1785.8L1106.7 1785.8L1108.7 1785.8L1110.7 1785.8L1112.7 1785.8L1114.7 1785.8L1116.7 1785.8L1118.7 1785.8L1120.7 1785.8L1122.7 1785.8L1124.7 1785.8L1126.7 1785.8L1128.7 1785.8L1130.7 1785.8L1132.7 1785.7L1134.7 1785.7L1136.7 1785.7L1138.7 1785.7L1140.7 1785.7L1142.7 1785.7L1144.7 1785.7L1146.7 1785.7L1148.7 1785.7L1150.7 1785.7L1152.7 1785.7L1154.7 1785.7L1156.7 1785.6L1158.7 1785.6L1160.7 1785.6L1162.7 1785.6L1164.7 1785.6L1166.7 1785.6L1168.7 1785.6L1170.7 1785.6L1172.7 1785.6L1174.7 1785.6L1176.7 1785.5L1178.7 1785.5L1180.7 1785.5L1182.7 1785.5L1184.7 1785.5L1186.7 1785.5L1188.7 1785.5L1190.7 1785.5L1192.7 1785.4L1194.7 1785.4L1196.7 1785.4L1198.7 1785.4L1200.7 1785.4L1202.7 1785.4L1204.7 1785.4L1206.7 1785.3L1208.7 1785.2L1210.7 1785.1L1212.7 1785L1214.7 1784.8L1216.7 1784.6L1218.7 1784.4L1220.7 1784.2L1222.7 1784L1224.7 1783.7L1226.7 1783.4L1228.7 1783.1L1230.7 1782.8L1232.7 1782.5L1234.7 1782.1L1236.7 1781.8L1238.7 1781.4L1240.7 1781L1242.7 1780.6L1244.7 1780.1L1246.7 1779.5L1248.7 1778.9L1250.7 1778.2L1252.7 1777.4L1254.7 1776.6L1256.7 1775.8L1258.7 1774.9L1260.7 1774L1262.7 1773L1264.7 1772L1266.7 1771L1268.7 1769.9L1270.7 1768.7L1272.7 1767.4L1274.7 1766L1276.7 1764.6L1278.7 1763.1L1280.7 1761.5L1282.7 1759.8L1284.7 1758L1286.7 1756.2L1288.7 1754.2L1290.7 1752.2L1292.7 1749.9L1294.7 1747.4L1296.7 1744.7L1298.7 1741.8L1300.7 1738.8L1302.7 1735.7L1304.7 1732.5L1306.7 1729.1L1308.7 1725.8L1310.7 1722.4L1312.7 1718.9L1314.7 1715.4L1316.7 1711.8L1318.7 1708.1L1320.7 1704.3L1322.7 1700.3L1324.7 1696.2L1326.7 1691.9L1328.7 1687.6L1330.7 1683.1L1332.7 1678.5L1334.7 1673.8L1336.7 1668.9L1338.7 1663.9L1340.7 1658.7L1342.7 1653.3L1344.7 1647.7L1346.7 1641.8L1348.7 1635.7L1350.7 1629.2L1352.7 1622.1L1354.7 1614.5L1356.7 1606.3L1358.7 1597.9L1360.7 1589.3L1362.7 1580.7L1364.7 1572.3L1366.7 1564.1L1368.7 1556.2L1370.7 1548.6L1372.7 1541.1L1374.7 1533.7L1376.7 1526.3L1378.7 1519L1380.7 1511.7L1382.7 1504.5L1384.7 1497.2L1386.7 1489.9L1388.7 1482.5L1390.7 1475L1392.7 1467.6L1394.7 1460.1L1396.7 1452.9L1398.7 1445.7L1400.7 1438.9L1402.7 1432.1L1404.7 1424.9L1406.7 1417.6L1408.7 1410.7L1410.7 1404.8L1412.7 1400.4L1414.7 1397.9L1416.7 1396.1L1418.7 1394.7L1420.7 1393.5L1422.7 1392.7L1424.7 1392L1426.7 1391.3L1428.7 1390.7L1430.7 1390.3L1432.7 1390.1L1434.7 1390.4L1436.7 1391.9L1438.7 1394.4L1440.7 1397.7L1442.7 1401.5L1444.7 1405.5L1446.7 1409.5L1448.7 1413.4L1450.7 1417.7L1452.7 1422.3L1454.7 1427.4L1456.7 1432.9L1458.7 1438.8L1460.7 1445.1L1462.7 1452.4L1464.7 1460.4L1466.7 1468.9L1468.7 1477.6L1470.7 1486.1L1472.7 1494.2L1474.7 1502.3L1476.7 1510.3L1478.7 1518.4L1480.7 1526.4L1482.7 1534.5L1484.7 1542.6L1486.7 1550.9L1488.7 1559.4L1490.7 1567.8L1492.7 1576L1494.7 1583.6L1496.7 1590.5L1498.7 1596.9L1500.7 1602.9L1502.7 1608.7L1504.7 1614.2L1506.7 1619.5L1508.7 1624.7L1510.7 1629.9L1512.7 1635.1L1514.7 1640.2L1516.7 1645.2L1518.7 1650.2L1520.7 1655L1522.7 1659.7L1524.7 1664.3L1526.7 1668.7L1528.7 1673.2L1530.7 1677.5L1532.7 1681.9L1534.7 1686.1L1536.7 1690.3L1538.7 1694.3L1540.7 1698.1L1542.7 1701.7L1544.7 1705.1L1546.7 1708.3L1548.7 1711.3L1550.7 1714.2L1552.7 1716.9L1554.7 1719.6L1556.7 1722.1L1558.7 1724.6L1560.7 1727L1562.7 1729.3L1564.7 1731.5L1566.7 1733.7L1568.7 1735.9L1570.7 1738L1572.7 1740.1L1574.7 1742L1576.7 1743.9L1578.7 1745.7L1580.7 1747.3L1582.7 1748.9L1584.7 1750.3L1586.7 1751.8L1588.7 1753.2L1590.7 1754.5L1592.7 1755.8L1594.7 1757.1L1596.7 1758.3L1598.7 1759.4L1600.7 1760.5L1602.7 1761.5L1604.7 1762.5L1606.7 1763.4L1608.7 1764.3L1610.7 1765.2L1612.7 1766L1614.7 1766.8L1616.7 1767.6L1618.7 1768.4L1620.7 1769.1L1622.7 1769.9L1624.7 1770.5L1626.7 1771.2L1628.7 1771.8L1630.7 1772.4L1632.7 1773L1634.7 1773.5L1636.7 1774L1638.7 1774.4L1640.7 1774.9L1642.7 1775.3L1644.7 1775.7L1646.7 1776.1L1648.7 1776.5L1650.7 1776.9L1652.7 1777.2L1654.7 1777.6L1656.7 1777.9L1658.7 1778.2L1660.7 1778.5L1662.7 1778.8L1664.7 1779L1666.7 1779.3L1668.7 1779.6L1670.7 1779.8L1672.7 1780.1L1674.7 1780.3L1676.7 1780.5L1678.7 1780.8L1680.7 1781L1682.7 1781.2L1684.7 1781.4L1686.7 1781.6L1688.7 1781.8L1690.7 1782L1692.7 1782.2L1694.7 1782.4L1696.7 1782.5L1698.7 1782.7L1700.7 1782.8L1702.7 1782.9L1704.7 1783L1706.7 1783.1L1708.7 1783.2L1710.7 1783.3L1712.7 1783.4L1714.7 1783.5L1716.7 1783.6L1718.7 1783.7L1720.7 1783.8L1722.7 1783.9L1724.7 1784L1726.7 1784.1L1728.7 1784.2L1730.7 1784.3L1732.7 1784.3L1734.7 1784.4L1736.7 1784.5L1738.7 1784.5L1740.7 1784.6L1742.7 1784.6L1744.7 1784.7L1746.7 1784.7L1748.7 1784.7L1750.7 1784.8L1752.7 1784.8L1754.7 1784.8" stroke="#12BDBA"/>
<path d="M982.7 1787.7L984.7 1787.7L986.7 1787.7L988.7 1787.7L990.7 1787.7L992.7 1787.7L994.7 1787.7L996.7 1787.7L998.7 1787.7L1000.7 1787.7L1002.7 1787.7L1004.7 1787.7L1006.7 1787.7L1008.7 1787.7L1010.7 1787.7L1012.7 1787.7L1014.7 1787.7L1016.7 1787.7L1018.7 1787.7L1020.7 1787.7L1022.7 1787.7L1024.7 1787.7L1026.7 1787.7L1028.7 1787.7L1030.7 1787.7L1032.7 1787.6L1034.7 1787.6L1036.7 1787.6L1038.7 1787.6L1040.7 1787.6L1042.7 1787.6L1044.7 1787.6L1046.7 1787.6L1048.7 1787.6L1050.7 1787.6L1052.7 1787.6L1054.7 1787.6L1056.7 1787.6L1058.7 1787.6L1060.7 1787.6L1062.7 1787.6L1064.7 1787.6L1066.7 1787.6L1068.7 1787.6L1070.7 1787.6L1072.7 1787.6L1074.7 1787.6L1076.7 1787.5L1078.7 1787.5L1080.7 1787.5L1082.7 1787.5L1084.7 1787.5L1086.7 1787.5L1088.7 1787.5L1090.7 1787.5L1092.7 1787.5L1094.7 1787.5L1096.7 1787.5L1098.7 1787.5L1100.7 1787.5L1102.7 1787.5L1104.7 1787.4L1106.7 1787.4L1108.7 1787.4L1110.7 1787.4L1112.7 1787.4L1114.7 1787.4L1116.7 1787.4L1118.7 1787.4L1120.7 1787.4L1122.7 1787.4L1124.7 1787.3L1126.7 1787.3L1128.7 1787.3L1130.7 1787.3L1132.7 1787.3L1134.7 1787.3L1136.7 1787.3L1138.7 1787.3L1140.7 1787.3L1142.7 1787.2L1144.7 1787.2L1146.7 1787.2L1148.7 1787.2L1150.7 1787.2L1152.7 1787.2L1154.7 1787.2L1156.7 1787.1L1158.7 1787.1L1160.7 1787.1L1162.7 1787.1L1164.7 1787.1L1166.7 1787.1L1168.7 1787L1170.7 1787L1172.7 1787L1174.7 1786.9L1176.7 1786.9L1178.7 1786.8L1180.7 1786.7L1182.7 1786.7L1184.7 1786.6L1186.7 1786.5L1188.7 1786.4L1190.7 1786.3L1192.7 1786.1L1194.7 1786L1196.7 1785.9L1198.7 1785.7L1200.7 1785.6L1202.7 1785.3L1204.7 1785.1L1206.7 1784.8L1208.7 1784.4L1210.7 1784.1L1212.7 1783.7L1214.7 1783.2L1216.7 1782.8L1218.7 1782.3L1220.7 1781.8L1222.7 1781.2L1224.7 1780.6L1226.7 1780L1228.7 1779.4L1230.7 1778.6L1232.7 1777.7L1234.7 1776.7L1236.7 1775.6L1238.7 1774.4L1240.7 1773.1L1242.7 1771.7L1244.7 1770.2L1246.7 1768.7L1248.7 1767.1L1250.7 1765.5L1252.7 1763.9L1254.7 1762.2L1256.7 1760.4L1258.7 1758.5L1260.7 1756.5L1262.7 1754.3L1264.7 1752.1L1266.7 1749.8L1268.7 1747.3L1270.7 1744.8L1272.7 1742.1L1274.7 1739.3L1276.7 1736.4L1278.7 1733.3L1280.7 1730L1282.7 1726.4L1284.7 1722.6L1286.7 1718.6L1288.7 1714.3L1290.7 1709.8L1292.7 1705.1L1294.7 1700.2L1296.7 1695L1298.7 1689.4L1300.7 1683.5L1302.7 1677.2L1304.7 1670.5L1306.7 1663.5L1308.7 1656.1L1310.7 1648.4L1312.7 1640.5L1314.7 1631.9L1316.7 1622.3L1318.7 1611.9L1320.7 1601L1322.7 1589.8L1324.7 1578.6L1326.7 1567.7L1328.7 1557.4L1330.7 1547.4L1332.7 1537.5L1334.7 1527.8L1336.7 1518.1L1338.7 1508.5L1340.7 1499L1342.7 1489.6L1344.7 1480.2L1346.7 1470.3L1348.7 1460.2L1350.7 1450.5L1352.7 1441.4L1354.7 1433.5L1356.7 1427.1L1358.7 1421.1L1360.7 1415.4L1362.7 1410.3L1364.7 1406L1366.7 1403L1368.7 1401.5L1370.7 1400.7L1372.7 1400.1L1374.7 1399.6L1376.7 1398.9L1378.7 1397.8L1380.7 1396.1L1382.7 1394.2L1384.7 1392.5L1386.7 1391.5L1388.7 1391.6L1390.7 1393.8L1392.7 1397.4L1394.7 1401.9L1396.7 1406.7L1398.7 1411L1400.7 1415.1L1402.7 1419.3L1404.7 1423.6L1406.7 1428.2L1408.7 1433L1410.7 1438.2L1412.7 1443.8L1414.7 1450L1416.7 1456.6L1418.7 1463.4L1420.7 1470.4L1422.7 1477.3L1424.7 1484.1L1426.7 1490.8L1428.7 1497.6L1430.7 1504.5L1432.7 1511.7L1434.7 1519.3L1436.7 1527.5L1438.7 1536.5L1440.7 1546.1L1442.7 1555.7L1444.7 1565.1L1446.7 1573.7L1448.7 1581.5L1450.7 1589L1452.7 1596.2L1454.7 1603.1L1456.7 1609.9L1458.7 1616.4L1460.7 1622.7L1462.7 1628.9L1464.7 1635L1466.7 1641L1468.7 1646.8L1470.7 1652.6L1472.7 1658.2L1474.7 1663.7L1476.7 1669.1L1478.7 1674.3L1480.7 1679.3L1482.7 1684.1L1484.7 1688.8L1486.7 1693.4L1488.7 1698L1490.7 1702.5L1492.7 1706.8L1494.7 1711L1496.7 1714.9L1498.7 1718.5L1500.7 1721.8L1502.7 1724.6L1504.7 1727.1L1506.7 1729.5L1508.7 1731.7L1510.7 1733.7L1512.7 1735.6L1514.7 1737.4L1516.7 1739.2L1518.7 1740.9L1520.7 1742.7L1522.7 1744.4L1524.7 1746.1L1526.7 1747.8L1528.7 1749.4L1530.7 1751L1532.7 1752.6L1534.7 1754.1L1536.7 1755.6L1538.7 1757L1540.7 1758.4L1542.7 1759.7L1544.7 1760.9L1546.7 1762.2L1548.7 1763.3L1550.7 1764.5L1552.7 1765.7L1554.7 1766.8L1556.7 1767.9L1558.7 1768.9L1560.7 1769.9L1562.7 1770.8L1564.7 1771.7L1566.7 1772.5L1568.7 1773.2L1570.7 1773.9L1572.7 1774.6L1574.7 1775.2L1576.7 1775.8L1578.7 1776.3L1580.7 1776.9L1582.7 1777.4L1584.7 1777.8L1586.7 1778.3L1588.7 1778.7L1590.7 1779.1L1592.7 1779.5L1594.7 1779.8L1596.7 1780.1L1598.7 1780.4L1600.7 1780.7L1602.7 1781L1604.7 1781.2L1606.7 1781.5L1608.7 1781.7L1610.7 1782L1612.7 1782.2L1614.7 1782.4L1616.7 1782.6L1618.7 1782.8L1620.7 1783L1622.7 1783.2L1624.7 1783.4L1626.7 1783.6L1628.7 1783.8L1630.7 1784L1632.7 1784.2L1634.7 1784.4L1636.7 1784.5L1638.7 1784.7L1640.7 1784.9L1642.7 1785L1644.7 1785.2L1646.7 1785.3L1648.7 1785.5L1650.7 1785.6L1652.7 1785.7L1654.7 1785.8L1656.7 1785.9L1658.7 1786L1660.7 1786.1L1662.7 1786.2L1664.7 1786.3L1666.7 1786.4L1668.7 1786.5L1670.7 1786.5L1672.7 1786.6L1674.7 1786.7L1676.7 1786.8L1678.7 1786.8L1680.7 1786.9L1682.7 1786.9L1684.7 1787L1686.7 1787L1688.7 1787L1690.7 1787.1" stroke="#52BFFB"/>
<path d="M982.7 1786.8L984.7 1786.8L986.7 1786.8L988.7 1786.8L990.7 1786.8L992.7 1786.8L994.7 1786.8L996.7 1786.8L998.7 1786.8L1000.7 1786.8L1002.7 1786.8L1004.7 1786.8L1006.7 1786.8L1008.7 1786.8L1010.7 1786.8L1012.7 1786.8L1014.7 1786.8L1016.7 1786.8L1018.7 1786.8L1020.7 1786.8L1022.7 1786.8L1024.7 1786.8L1026.7 1786.8L1028.7 1786.8L1030.7 1786.8L1032.7 1786.8L1034.7 1786.8L1036.7 1786.8L1038.7 1786.8L1040.7 1786.8L1042.7 1786.8L1044.7 1786.8L1046.7 1786.8L1048.7 1786.7L1050.7 1786.7L1052.7 1786.7L1054.7 1786.7L1056.7 1786.7L1058.7 1786.7L1060.7 1786.7L1062.7 1786.7L1064.7 1786.7L1066.7 1786.7L1068.7 1786.7L1070.7 1786.7L1072.7 1786.7L1074.7 1786.7L1076.7 1786.6L1078.7 1786.6L1080.7 1786.6L1082.7 1786.6L1084.7 1786.6L1086.7 1786.6L1088.7 1786.6L1090.7 1786.6L1092.7 1786.6L1094.7 1786.5L1096.7 1786.5L1098.7 1786.5L1100.7 1786.5L1102.7 1786.5L1104.7 1786.5L1106.7 1786.5L1108.7 1786.5L1110.7 1786.4L1112.7 1786.4L1114.7 1786.4L1116.7 1786.4L1118.7 1786.4L1120.7 1786.4L1122.7 1786.3L1124.7 1786.3L1126.7 1786.3L1128.7 1786.3L1130.7 1786.3L1132.7 1786.3L1134.7 1786.2L1136.7 1786.2L1138.7 1786.2L1140.7 1786.1L1142.7 1785.9L1144.7 1785.8L1146.7 1785.6L1148.7 1785.3L1150.7 1785L1152.7 1784.7L1154.7 1784.4L1156.7 1784.1L1158.7 1783.7L1160.7 1783.3L1162.7 1782.9L1164.7 1782.4L1166.7 1782L1168.7 1781.5L1170.7 1780.9L1172.7 1780.2L1174.7 1779.4L1176.7 1778.5L1178.7 1777.5L1180.7 1776.4L1182.7 1775.3L1184.7 1774.1L1186.7 1772.8L1188.7 1771.5L1190.7 1770.2L1192.7 1768.7L1194.7 1767.2L1196.7 1765.4L1198.7 1763.5L1200.7 1761.5L1202.7 1759.3L1204.7 1757L1206.7 1754.5L1208.7 1752L1210.7 1749.3L1212.7 1746.6L1214.7 1743.8L1216.7 1740.8L1218.7 1737.5L1220.7 1734L1222.7 1730.2L1224.7 1726.2L1226.7 1722L1228.7 1717.6L1230.7 1713.1L1232.7 1708.6L1234.7 1704L1236.7 1699.3L1238.7 1694.5L1240.7 1689.5L1242.7 1684.4L1244.7 1679L1246.7 1673.4L1248.7 1667.6L1250.7 1661.5L1252.7 1655.2L1254.7 1648.3L1256.7 1640.9L1258.7 1633.1L1260.7 1624.9L1262.7 1616.5L1264.7 1608L1266.7 1599.4L1268.7 1590.8L1270.7 1582.3L1272.7 1573.9L1274.7 1565.2L1276.7 1556.4L1278.7 1547.5L1280.7 1538.6L1282.7 1529.7L1284.7 1520.9L1286.7 1512.3L1288.7 1503.8L1290.7 1495.4L1292.7 1486.9L1294.7 1478.4L1296.7 1470.1L1298.7 1462L1300.7 1454.1L1302.7 1446.7L1304.7 1439.7L1306.7 1432.7L1308.7 1425.8L1310.7 1419.2L1312.7 1413.2L1314.7 1408.1L1316.7 1404.1L1318.7 1400.5L1320.7 1397L1322.7 1394L1324.7 1391.9L1326.7 1390.8L1328.7 1391L1330.7 1392.4L1332.7 1394.6L1334.7 1397.3L1336.7 1400.3L1338.7 1403.4L1340.7 1407.4L1342.7 1412.2L1344.7 1417.6L1346.7 1423.3L1348.7 1429.1L1350.7 1434.9L1352.7 1440.8L1354.7 1447.1L1356.7 1453.7L1358.7 1460.5L1360.7 1467.5L1362.7 1474.7L1364.7 1482.3L1366.7 1490.3L1368.7 1498.5L1370.7 1506.8L1372.7 1515.1L1374.7 1523.2L1376.7 1531.3L1378.7 1539.4L1380.7 1547.4L1382.7 1555.5L1384.7 1563.5L1386.7 1571.6L1388.7 1579.8L1390.7 1588.2L1392.7 1596.6L1394.7 1604.8L1396.7 1612.6L1398.7 1619.9L1400.7 1626.6L1402.7 1632.9L1404.7 1639L1406.7 1644.9L1408.7 1650.6L1410.7 1656.1L1412.7 1661.6L1414.7 1667L1416.7 1672.3L1418.7 1677.4L1420.7 1682.1L1422.7 1686.5L1424.7 1690.5L1426.7 1694.4L1428.7 1698.1L1430.7 1701.6L1432.7 1704.9L1434.7 1708.2L1436.7 1711.2L1438.7 1714.2L1440.7 1717L1442.7 1719.8L1444.7 1722.4L1446.7 1725L1448.7 1727.4L1450.7 1729.8L1452.7 1732L1454.7 1734.2L1456.7 1736.3L1458.7 1738.4L1460.7 1740.3L1462.7 1742.2L1464.7 1744.1L1466.7 1745.9L1468.7 1747.6L1470.7 1749.3L1472.7 1750.8L1474.7 1752.3L1476.7 1753.7L1478.7 1755L1480.7 1756.2L1482.7 1757.4L1484.7 1758.5L1486.7 1759.6L1488.7 1760.7L1490.7 1761.7L1492.7 1762.6L1494.7 1763.5L1496.7 1764.4L1498.7 1765.3L1500.7 1766.1L1502.7 1766.8L1504.7 1767.6L1506.7 1768.3L1508.7 1769L1510.7 1769.7L1512.7 1770.4L1514.7 1771L1516.7 1771.7L1518.7 1772.3L1520.7 1772.8L1522.7 1773.4L1524.7 1773.9L1526.7 1774.5L1528.7 1774.9L1530.7 1775.4L1532.7 1775.8L1534.7 1776.2L1536.7 1776.6L1538.7 1777L1540.7 1777.4L1542.7 1777.8L1544.7 1778.1L1546.7 1778.5L1548.7 1778.8L1550.7 1779.1L1552.7 1779.4L1554.7 1779.7L1556.7 1779.9L1558.7 1780.2L1560.7 1780.4L1562.7 1780.7L1564.7 1780.9L1566.7 1781.1L1568.7 1781.3L1570.7 1781.5L1572.7 1781.6L1574.7 1781.8L1576.7 1782L1578.7 1782.1L1580.7 1782.3L1582.7 1782.4L1584.7 1782.5L1586.7 1782.7L1588.7 1782.8L1590.7 1783L1592.7 1783.1L1594.7 1783.2L1596.7 1783.4L1598.7 1783.5L1600.7 1783.6L1602.7 1783.8L1604.7 1783.9L1606.7 1784L1608.7 1784.1L1610.7 1784.3L1612.7 1784.4L1614.7 1784.5L1616.7 1784.6L1618.7 1784.7L1620.7 1784.8L1622.7 1784.9L1624.7 1785L1626.7 1785.1L1628.7 1785.2L1630.7 1785.3L1632.7 1785.4L1634.7 1785.5L1636.7 1785.6L1638.7 1785.6L1640.7 1785.7L1642.7 1785.8L1644.7 1785.9L1646.7 1786L1648.7 1786L1650.7 1786.1L1652.7 1786.2L1654.7 1786.2" stroke="#5A5AF8"/>
</g>
<path d="M853.5 1787.5v14M918 1787.5v7M982.5 1787.5v14M1047.1 1787.5v7M1111.6 1787.5v14M1176.1 1787.5v7M1240.7 1787.5v14M1305.2 1787.5v7M1369.7 1787.5v14M1434.2 1787.5v7M1498.8 1787.5v14M1563.3 1787.5v7M1627.8 1787.5v14M1692.3 1787.5v7M1756.8 1787.5v14M853.5 1734h7M853.5 1628.5h14M853.5 1523h7M853.5 1417.5h14M1808.5 1588.7h-7M1808.5 1390.1h-14" stroke="#000" stroke-width="2.6" fill="none"/>
<text x="853.5" y="1836.3" font-size="32.5" text-anchor="middle" fill="#000">375</text>
<text x="982.5" y="1836.3" font-size="32.5" text-anchor="middle" fill="#000">400</text>
<text x="1111.6" y="1836.3" font-size="32.5" text-anchor="middle" fill="#000">425</text>
<text x="1240.7" y="1836.3" font-size="32.5" text-anchor="middle" fill="#000">450</text>
<text x="1369.7" y="1836.3" font-size="32.5" text-anchor="middle" fill="#000">475</text>
<text x="1498.8" y="1836.3" font-size="32.5" text-anchor="middle" fill="#000">500</text>
<text x="1627.8" y="1836.3" font-size="32.5" text-anchor="middle" fill="#000">525</text>
<text x="1756.8" y="1836.3" font-size="32.5" text-anchor="middle" fill="#000">550</text>
<text x="842.5" y="1427.5" font-size="32.5" text-anchor="end" fill="#000">0.08</text>
<text x="842.5" y="1638.5" font-size="32.5" text-anchor="end" fill="#000">0.04</text>
<text x="1825" y="1400.6" font-size="32.5" text-anchor="start" fill="#000">1</text>
<text x="1823.4" y="1797.6" font-size="32.5" text-anchor="start" fill="#000">0</text>
<text x="1193" y="1881.2" font-size="33.3" text-anchor="start" fill="#000">Wavelength (nm)</text>
<text transform="translate(767.5 1550) rotate(-90)" font-size="33" text-anchor="middle">Absorbance</text>
<text transform="translate(1869.8 1551) rotate(-90)" font-size="33" text-anchor="middle">Normalized PL intensity</text>
<path d="M1064 1577H1018" stroke="#000" stroke-width="2.6" fill="none"/><path d="M995 1577L1019.5 1570.6V1583.4Z" fill="#000"/>
<path d="M1510 1576.5H1560" stroke="#000" stroke-width="2.6" fill="none"/><path d="M1583.5 1576.5L1559 1570.1V1582.9Z" fill="#000"/>
<path d="M1545 1340H1618.3" stroke="#12BDBA" stroke-width="3.6" fill="none"/>
<text x="1629" y="1351.5" font-size="33" text-anchor="start" fill="#000">Sky-blue</text>
<path d="M1545 1381.5H1618.3" stroke="#52BFFB" stroke-width="3.6" fill="none"/>
<text x="1629" y="1392.5" font-size="33" text-anchor="start" fill="#000">Pure-blue</text>
<path d="M1545 1422.3H1618.3" stroke="#5A5AF8" stroke-width="3.6" fill="none"/>
<text x="1629" y="1433.5" font-size="33" text-anchor="start" fill="#000">Deep-blue</text>
</g>
</svg>
</body></html>
